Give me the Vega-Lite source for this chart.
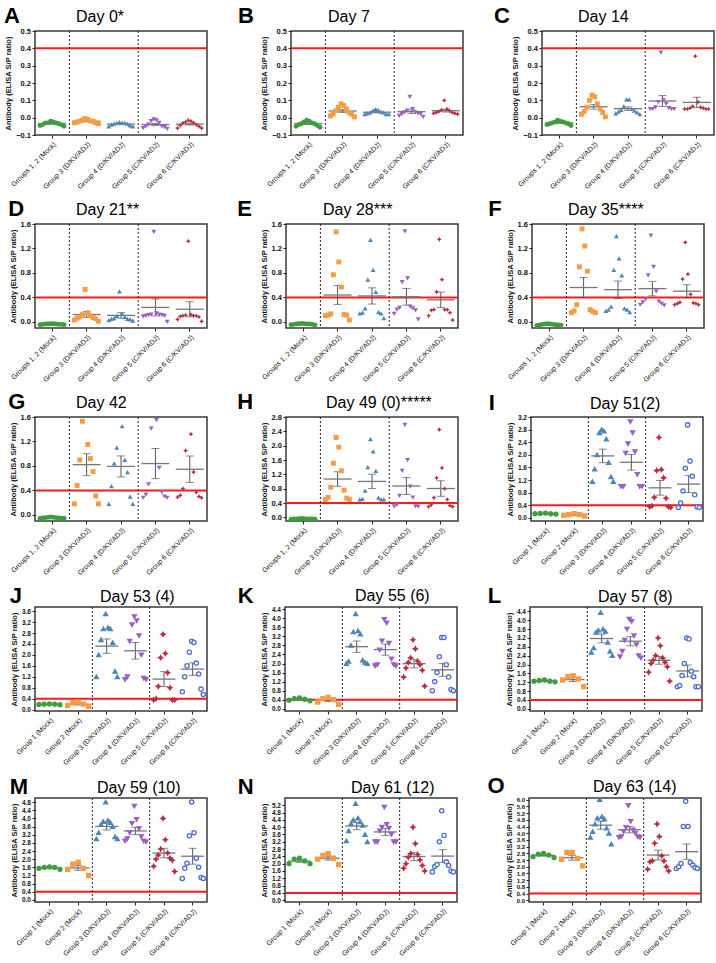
{
"$schema": "https://vega.github.io/schema/vega-lite/v6.json",
"padding": {"left": 3, "top": 5, "right": 2, "bottom": 0},
"datasets": {"d": [
{"p":"A","g":"Groups 1, 2 (Mock)","v":[-0.045,-0.04,-0.03,-0.03,-0.02,-0.025,-0.03,-0.035,-0.04,-0.05]},
{"p":"A","g":"Group 3 (D/KV/ADJ)","v":[-0.03,-0.025,-0.02,-0.015,-0.005,-0.01,-0.02,-0.02,-0.03,-0.035]},
{"p":"A","g":"Group 4 (D/KV/ADJ)","v":[-0.05,-0.04,-0.035,-0.03,-0.025,-0.03,-0.03,-0.035,-0.045,-0.05]},
{"p":"A","g":"Group 5 (C/KV/ADJ)","v":[-0.06,-0.05,-0.04,-0.02,-0.01,-0.015,-0.03,-0.05,-0.055,-0.065]},
{"p":"A","g":"Group 6 (C/KV/ADJ)","v":[-0.06,-0.045,-0.03,-0.025,-0.015,-0.02,-0.03,-0.04,-0.05,-0.06]},
{"p":"B","g":"Groups 1, 2 (Mock)","v":[-0.05,-0.04,-0.035,-0.025,-0.015,-0.02,-0.03,-0.035,-0.045,-0.055]},
{"p":"B","g":"Group 3 (D/KV/ADJ)","v":[0.01,0.02,0.04,0.06,0.08,0.07,0.05,0.03,0.02,0.005]},
{"p":"B","g":"Group 4 (D/KV/ADJ)","v":[0.02,0.025,0.03,0.04,0.05,0.045,0.035,0.03,0.02,0.02]},
{"p":"B","g":"Group 5 (C/KV/ADJ)","v":[0.01,0.02,0.03,0.04,0.12,0.05,0.03,0.025,0.02,0.005]},
{"p":"B","g":"Group 6 (C/KV/ADJ)","v":[0.025,0.03,0.035,0.045,0.1,0.05,0.04,0.03,0.025,0.02]},
{"p":"C","g":"Groups 1, 2 (Mock)","v":[-0.04,-0.035,-0.03,-0.025,-0.015,-0.02,-0.025,-0.03,-0.035,-0.045]},
{"p":"C","g":"Group 3 (D/KV/ADJ)","v":[0.02,0.035,0.06,0.1,0.13,0.12,0.08,0.05,0.03,0.005]},
{"p":"C","g":"Group 4 (D/KV/ADJ)","v":[0.025,0.035,0.045,0.065,0.105,0.105,0.05,0.04,0.03,0.02]},
{"p":"C","g":"Group 5 (C/KV/ADJ)","v":[0.05,0.05,0.06,0.09,0.375,0.1,0.08,0.055,0.05,0.05]},
{"p":"C","g":"Group 6 (C/KV/ADJ)","v":[0.05,0.05,0.055,0.065,0.355,0.09,0.06,0.055,0.05,0.05]},
{"p":"D","g":"Groups 1, 2 (Mock)","v":[-0.045,-0.04,-0.035,-0.035,-0.03,-0.03,-0.035,-0.04,-0.04,-0.045]},
{"p":"D","g":"Group 3 (D/KV/ADJ)","v":[0.03,0.06,0.08,0.12,0.53,0.15,0.1,0.07,0.05,0.01]},
{"p":"D","g":"Group 4 (D/KV/ADJ)","v":[0.03,0.05,0.06,0.1,0.5,0.13,0.08,0.05,0.04,0.02]},
{"p":"D","g":"Group 5 (C/KV/ADJ)","v":[0.09,0.1,0.11,0.12,1.47,0.14,0.12,0.11,0.1,0.0]},
{"p":"D","g":"Group 6 (C/KV/ADJ)","v":[0.04,0.09,0.1,0.11,1.32,0.12,0.1,0.1,0.08,0.01]},
{"p":"E","g":"Groups 1, 2 (Mock)","v":[-0.045,-0.04,-0.035,-0.03,-0.025,-0.03,-0.035,-0.035,-0.04,-0.05]},
{"p":"E","g":"Group 3 (D/KV/ADJ)","v":[0.1,0.11,0.13,0.77,1.47,0.98,0.57,0.12,0.11,0.03]},
{"p":"E","g":"Group 4 (D/KV/ADJ)","v":[0.14,0.15,0.22,0.69,1.34,0.85,0.49,0.16,0.14,0.06]},
{"p":"E","g":"Group 5 (C/KV/ADJ)","v":[0.13,0.2,0.23,0.65,1.48,0.71,0.25,0.22,0.19,0.04]},
{"p":"E","g":"Group 6 (C/KV/ADJ)","v":[0.1,0.19,0.2,0.49,1.35,0.69,0.2,0.2,0.15,0.03]},
{"p":"F","g":"Groups 1, 2 (Mock)","v":[-0.06,-0.05,-0.04,-0.035,-0.03,-0.035,-0.04,-0.045,-0.05,-0.055]},
{"p":"F","g":"Group 3 (D/KV/ADJ)","v":[0.15,0.18,0.28,0.9,1.52,1.24,0.83,0.2,0.17,0.15]},
{"p":"F","g":"Group 4 (D/KV/ADJ)","v":[0.18,0.2,0.25,0.85,1.4,1.04,0.76,0.22,0.2,0.16]},
{"p":"F","g":"Group 5 (C/KV/ADJ)","v":[0.28,0.32,0.37,0.76,1.41,0.9,0.5,0.33,0.3,0.27]},
{"p":"F","g":"Group 6 (C/KV/ADJ)","v":[0.28,0.3,0.32,0.7,1.3,0.78,0.45,0.31,0.3,0.28]},
{"p":"G","g":"Groups 1, 2 (Mock)","v":[-0.06,-0.05,-0.045,-0.04,-0.035,-0.04,-0.045,-0.05,-0.055,-0.06]},
{"p":"G","g":"Group 3 (D/KV/ADJ)","v":[0.18,0.48,0.9,1.53,1.85,1.15,0.92,0.71,0.31,0.18]},
{"p":"G","g":"Group 4 (D/KV/ADJ)","v":[0.18,0.47,0.84,1.1,1.8,1.45,0.9,0.7,0.3,0.18]},
{"p":"G","g":"Group 5 (C/KV/ADJ)","v":[0.28,0.33,0.5,1.41,2.6,1.55,0.77,0.37,0.3,0.28]},
{"p":"G","g":"Group 6 (C/KV/ADJ)","v":[0.29,0.32,0.43,1.05,2.4,1.32,0.7,0.37,0.3,0.28]},
{"p":"H","g":"Groups 1, 2 (Mock)","v":[-0.05,-0.045,-0.04,-0.035,-0.03,-0.035,-0.04,-0.04,-0.045,-0.05]},
{"p":"H","g":"Group 3 (D/KV/ADJ)","v":[0.5,0.56,0.84,1.51,2.23,1.96,1.3,0.76,0.54,0.5]},
{"p":"H","g":"Group 4 (D/KV/ADJ)","v":[0.5,0.52,0.75,1.4,2.18,1.84,1.3,0.55,0.5,0.5]},
{"p":"H","g":"Group 5 (C/KV/ADJ)","v":[0.31,0.35,0.6,1.3,2.58,1.6,0.86,0.55,0.31,0.3]},
{"p":"H","g":"Group 6 (C/KV/ADJ)","v":[0.3,0.35,0.55,1.1,2.45,1.38,0.8,0.5,0.33,0.3]},
{"p":"I","g":"Group 1 (Mock)","v":[0.13,0.14,0.15,0.13,0.12]},
{"p":"I","g":"Group 2 (Mock)","v":[0.08,0.1,0.13,0.1,0.06]},
{"p":"I","g":"Group 3 (D/KV/ADJ)","v":[1.15,1.55,2.0,2.7,2.8,2.75,2.5,1.75,1.3,1.15]},
{"p":"I","g":"Group 4 (D/KV/ADJ)","v":[1.0,1.0,2.05,2.35,3.05,2.7,2.1,1.38,1.0,1.0]},
{"p":"I","g":"Group 5 (C/KV/ADJ)","v":[0.35,0.38,0.65,1.5,2.55,1.53,1.27,0.62,0.35,0.33]},
{"p":"I","g":"Group 6 (C/KV/ADJ)","v":[0.33,0.47,0.85,1.57,2.95,1.8,1.32,0.73,0.35,0.33]},
{"p":"J","g":"Group 1 (Mock)","v":[0.19,0.2,0.21,0.2,0.18]},
{"p":"J","g":"Group 2 (Mock)","v":[0.15,0.25,0.28,0.2,0.12]},
{"p":"J","g":"Group 3 (D/KV/ADJ)","v":[1.2,2.0,2.55,2.95,3.5,3.0,2.95,2.45,1.4,1.2]},
{"p":"J","g":"Group 4 (D/KV/ADJ)","v":[1.1,1.2,2.5,3.1,3.4,3.25,2.7,2.0,1.15,1.1]},
{"p":"J","g":"Group 5 (C/KV/ADJ)","v":[0.35,0.4,0.85,1.9,2.75,2.05,1.35,0.8,0.35,0.35]},
{"p":"J","g":"Group 6 (C/KV/ADJ)","v":[0.65,1.2,1.6,2.1,2.5,2.45,1.7,1.3,0.75,0.55]},
{"p":"K","g":"Group 1 (Mock)","v":[0.38,0.45,0.48,0.42,0.35]},
{"p":"K","g":"Group 2 (Mock)","v":[0.3,0.45,0.5,0.4,0.2]},
{"p":"K","g":"Group 3 (D/KV/ADJ)","v":[2.0,2.1,2.8,3.4,4.2,3.45,3.3,2.15,2.05,2.0]},
{"p":"K","g":"Group 4 (D/KV/ADJ)","v":[1.9,1.95,2.6,3.0,3.95,3.8,2.9,2.2,1.95,1.9]},
{"p":"K","g":"Group 5 (C/KV/ADJ)","v":[1.4,1.8,2.05,2.25,3.05,2.65,2.1,1.95,1.7,1.0]},
{"p":"K","g":"Group 6 (C/KV/ADJ)","v":[0.8,1.2,1.6,2.3,3.15,3.15,1.95,1.4,0.85,0.8]},
{"p":"L","g":"Group 1 (Mock)","v":[1.25,1.28,1.3,1.25,1.22]},
{"p":"L","g":"Group 2 (Mock)","v":[1.3,1.45,1.5,1.35,1.0]},
{"p":"L","g":"Group 3 (D/KV/ADJ)","v":[2.55,2.75,3.45,3.55,4.35,3.6,3.5,3.0,2.6,2.4]},
{"p":"L","g":"Group 4 (D/KV/ADJ)","v":[2.35,2.6,3.1,3.6,4.05,3.95,3.3,2.9,2.4,2.3]},
{"p":"L","g":"Group 5 (C/KV/ADJ)","v":[1.65,2.05,2.2,2.4,3.2,2.85,2.3,2.1,1.9,1.25]},
{"p":"L","g":"Group 6 (C/KV/ADJ)","v":[1.0,1.05,1.5,2.05,3.2,3.15,1.7,1.45,1.0,1.0]},
{"p":"M","g":"Group 1 (Mock)","v":[1.55,1.6,1.62,1.6,1.5]},
{"p":"M","g":"Group 2 (Mock)","v":[1.5,1.75,1.85,1.55,1.2]},
{"p":"M","g":"Group 3 (D/KV/ADJ)","v":[3.0,3.3,3.7,3.85,4.8,3.9,3.8,3.6,3.1,3.0]},
{"p":"M","g":"Group 4 (D/KV/ADJ)","v":[2.9,3.0,3.3,3.75,4.6,3.95,3.5,3.1,2.9,2.85]},
{"p":"M","g":"Group 5 (C/KV/ADJ)","v":[1.65,2.0,2.2,2.5,4.0,2.95,2.3,2.05,1.95,1.4]},
{"p":"M","g":"Group 6 (C/KV/ADJ)","v":[1.05,1.55,1.8,3.15,4.8,3.3,2.05,1.6,1.1,1.05]},
{"p":"N","g":"Group 1 (Mock)","v":[2.0,2.25,2.3,2.15,2.0]},
{"p":"N","g":"Group 2 (Mock)","v":[2.25,2.45,2.55,2.3,1.95]},
{"p":"N","g":"Group 3 (D/KV/ADJ)","v":[3.25,3.8,4.2,4.4,5.3,4.5,4.3,4.1,3.6,3.2]},
{"p":"N","g":"Group 4 (D/KV/ADJ)","v":[3.2,3.2,3.8,4.0,5.1,4.15,3.95,3.6,3.2,3.2]},
{"p":"N","g":"Group 5 (C/KV/ADJ)","v":[1.75,2.0,2.35,2.55,4.0,3.1,2.5,2.2,1.9,1.6]},
{"p":"N","g":"Group 6 (C/KV/ADJ)","v":[1.55,1.85,1.95,3.2,4.9,3.55,2.1,1.9,1.6,1.55]},
{"p":"O","g":"Group 1 (Mock)","v":[2.6,2.75,2.8,2.7,2.55]},
{"p":"O","g":"Group 2 (Mock)","v":[2.45,2.85,2.85,2.5,2.05]},
{"p":"O","g":"Group 3 (D/KV/ADJ)","v":[3.75,4.1,4.55,4.9,6.0,5.0,4.85,4.3,4.0,3.35]},
{"p":"O","g":"Group 4 (D/KV/ADJ)","v":[3.75,3.8,4.1,4.35,5.65,4.7,4.2,4.0,3.8,3.75]},
{"p":"O","g":"Group 5 (C/KV/ADJ)","v":[1.85,2.3,2.35,3.4,4.55,3.8,2.65,2.35,2.0,1.75]},
{"p":"O","g":"Group 6 (C/KV/ADJ)","v":[1.9,2.0,2.2,4.4,5.9,4.4,2.25,2.1,1.95,1.9]}
]},
"vconcat": [
{"hconcat": [
 {"title": {"text": "A", "anchor": "start", "frame": "bounds", "fontSize": 22, "fontWeight": "bold", "offset": -20},
  "hconcat": [{"width": 172, "height": 104, "title": {"text": "Day 0*", "dx": 41}, "data": {"name": "d"},
   "transform": [{"filter": "datum.p === 'A'"}, {"flatten": ["v"]}, {"window": [{"op": "row_number", "as": "i"}], "groupby": ["g"]}, {"window": [{"op": "percent_rank", "as": "j"}], "groupby": ["g"], "sort": [{"field": "i"}]}],
   "layer": [
    {"data": {"values": [{}]}, "mark": {"type": "rule", "color": "#ff1a1a", "strokeWidth": 2}, "encoding": {"y": {"datum": 0.4, "type": "quantitative", "scale": {"domain": [-0.1, 0.5], "nice": false, "zero": false}, "axis": {"values": [-0.1, 0, 0.1, 0.2, 0.3, 0.4, 0.5], "format": ".1f", "title": "Antibody (ELISA S/P ratio)"}}}},
    {"data": {"values": [{}]}, "mark": {"type": "rule", "color": "#222", "strokeWidth": 1, "strokeDash": [2, 2]}, "encoding": {"x": {"datum": "Group 3 (D/KV/ADJ)", "type": "nominal", "bandPosition": 0, "title": null, "scale": {"domain": ["Groups 1, 2 (Mock)", "Group 3 (D/KV/ADJ)", "Group 4 (D/KV/ADJ)", "Group 5 (C/KV/ADJ)", "Group 6 (C/KV/ADJ)"], "paddingInner": 0, "paddingOuter": 0}}}},
    {"data": {"values": [{}]}, "mark": {"type": "rule", "color": "#222", "strokeWidth": 1, "strokeDash": [2, 2]}, "encoding": {"x": {"datum": "Group 5 (C/KV/ADJ)", "type": "nominal", "bandPosition": 0, "title": null, "scale": {"domain": ["Groups 1, 2 (Mock)", "Group 3 (D/KV/ADJ)", "Group 4 (D/KV/ADJ)", "Group 5 (C/KV/ADJ)", "Group 6 (C/KV/ADJ)"], "paddingInner": 0, "paddingOuter": 0}}}},
    {"mark": {"type": "errorbar", "extent": "stderr", "color": "#555", "thickness": 1, "ticks": {"size": 8, "color": "#555"}}, "encoding": {"x": {"field": "g", "type": "nominal", "title": null, "scale": {"domain": ["Groups 1, 2 (Mock)", "Group 3 (D/KV/ADJ)", "Group 4 (D/KV/ADJ)", "Group 5 (C/KV/ADJ)", "Group 6 (C/KV/ADJ)"], "paddingInner": 0, "paddingOuter": 0}}, "y": {"field": "v", "type": "quantitative", "scale": {"domain": [-0.1, 0.5], "nice": false, "zero": false}, "axis": {"values": [-0.1, 0, 0.1, 0.2, 0.3, 0.4, 0.5], "format": ".1f", "title": "Antibody (ELISA S/P ratio)"}}}},
    {"mark": {"type": "tick", "color": "#777", "thickness": 1.3, "size": 28}, "encoding": {"x": {"field": "g", "type": "nominal", "title": null, "scale": {"domain": ["Groups 1, 2 (Mock)", "Group 3 (D/KV/ADJ)", "Group 4 (D/KV/ADJ)", "Group 5 (C/KV/ADJ)", "Group 6 (C/KV/ADJ)"], "paddingInner": 0, "paddingOuter": 0}}, "y": {"aggregate": "mean", "field": "v", "type": "quantitative", "scale": {"domain": [-0.1, 0.5], "nice": false, "zero": false}, "axis": {"values": [-0.1, 0, 0.1, 0.2, 0.3, 0.4, 0.5], "format": ".1f", "title": "Antibody (ELISA S/P ratio)"}}}},
    {"mark": {"type": "point", "filled": true, "size": 24, "opacity": 1, "clip": true}, "encoding": {
      "x": {"field": "g", "type": "nominal", "title": null, "scale": {"domain": ["Groups 1, 2 (Mock)", "Group 3 (D/KV/ADJ)", "Group 4 (D/KV/ADJ)", "Group 5 (C/KV/ADJ)", "Group 6 (C/KV/ADJ)"], "paddingInner": 0, "paddingOuter": 0}},
      "y": {"field": "v", "type": "quantitative", "scale": {"domain": [-0.1, 0.5], "nice": false, "zero": false}, "axis": {"values": [-0.1, 0, 0.1, 0.2, 0.3, 0.4, 0.5], "format": ".1f", "title": "Antibody (ELISA S/P ratio)"}},
      "xOffset": {"field": "j", "type": "quantitative", "scale": {"domain": [0, 1], "range": [5, 29]}},
      "color": {"field": "g", "type": "nominal", "scale": {"domain": ["Groups 1, 2 (Mock)", "Group 3 (D/KV/ADJ)", "Group 4 (D/KV/ADJ)", "Group 5 (C/KV/ADJ)", "Group 6 (C/KV/ADJ)"], "range": ["#3c9e3c", "#f79b45", "#4b86b8", "#9a5fc7", "#b52f3c"]}, "legend": null},
      "shape": {"field": "g", "type": "nominal", "scale": {"domain": ["Groups 1, 2 (Mock)", "Group 3 (D/KV/ADJ)", "Group 4 (D/KV/ADJ)", "Group 5 (C/KV/ADJ)", "Group 6 (C/KV/ADJ)"], "range": ["circle", "square", "triangle-up", "triangle-down", "M0,-1L0.35,-0.35L1,0L0.35,0.35L0,1L-0.35,0.35L-1,0L-0.35,-0.35Z"]}, "legend": null}}}
   ]}]},
 {"title": {"text": "B", "anchor": "start", "frame": "bounds", "fontSize": 22, "fontWeight": "bold", "offset": -20, "dx": -22},
  "hconcat": [{"width": 172, "height": 104, "title": {"text": "Day 7", "dx": 37}, "data": {"name": "d"},
   "transform": [{"filter": "datum.p === 'B'"}, {"flatten": ["v"]}, {"window": [{"op": "row_number", "as": "i"}], "groupby": ["g"]}, {"window": [{"op": "percent_rank", "as": "j"}], "groupby": ["g"], "sort": [{"field": "i"}]}],
   "layer": [
    {"data": {"values": [{}]}, "mark": {"type": "rule", "color": "#ff1a1a", "strokeWidth": 2}, "encoding": {"y": {"datum": 0.4, "type": "quantitative", "scale": {"domain": [-0.1, 0.5], "nice": false, "zero": false}, "axis": {"values": [-0.1, 0, 0.1, 0.2, 0.3, 0.4, 0.5], "format": ".1f", "title": "Antibody (ELISA S/P ratio)"}}}},
    {"data": {"values": [{}]}, "mark": {"type": "rule", "color": "#222", "strokeWidth": 1, "strokeDash": [2, 2]}, "encoding": {"x": {"datum": "Group 3 (D/KV/ADJ)", "type": "nominal", "bandPosition": 0, "title": null, "scale": {"domain": ["Groups 1, 2 (Mock)", "Group 3 (D/KV/ADJ)", "Group 4 (D/KV/ADJ)", "Group 5 (C/KV/ADJ)", "Group 6 (C/KV/ADJ)"], "paddingInner": 0, "paddingOuter": 0}}}},
    {"data": {"values": [{}]}, "mark": {"type": "rule", "color": "#222", "strokeWidth": 1, "strokeDash": [2, 2]}, "encoding": {"x": {"datum": "Group 5 (C/KV/ADJ)", "type": "nominal", "bandPosition": 0, "title": null, "scale": {"domain": ["Groups 1, 2 (Mock)", "Group 3 (D/KV/ADJ)", "Group 4 (D/KV/ADJ)", "Group 5 (C/KV/ADJ)", "Group 6 (C/KV/ADJ)"], "paddingInner": 0, "paddingOuter": 0}}}},
    {"mark": {"type": "errorbar", "extent": "stderr", "color": "#555", "thickness": 1, "ticks": {"size": 8, "color": "#555"}}, "encoding": {"x": {"field": "g", "type": "nominal", "title": null, "scale": {"domain": ["Groups 1, 2 (Mock)", "Group 3 (D/KV/ADJ)", "Group 4 (D/KV/ADJ)", "Group 5 (C/KV/ADJ)", "Group 6 (C/KV/ADJ)"], "paddingInner": 0, "paddingOuter": 0}}, "y": {"field": "v", "type": "quantitative", "scale": {"domain": [-0.1, 0.5], "nice": false, "zero": false}, "axis": {"values": [-0.1, 0, 0.1, 0.2, 0.3, 0.4, 0.5], "format": ".1f", "title": "Antibody (ELISA S/P ratio)"}}}},
    {"mark": {"type": "tick", "color": "#777", "thickness": 1.3, "size": 28}, "encoding": {"x": {"field": "g", "type": "nominal", "title": null, "scale": {"domain": ["Groups 1, 2 (Mock)", "Group 3 (D/KV/ADJ)", "Group 4 (D/KV/ADJ)", "Group 5 (C/KV/ADJ)", "Group 6 (C/KV/ADJ)"], "paddingInner": 0, "paddingOuter": 0}}, "y": {"aggregate": "mean", "field": "v", "type": "quantitative", "scale": {"domain": [-0.1, 0.5], "nice": false, "zero": false}, "axis": {"values": [-0.1, 0, 0.1, 0.2, 0.3, 0.4, 0.5], "format": ".1f", "title": "Antibody (ELISA S/P ratio)"}}}},
    {"mark": {"type": "point", "filled": true, "size": 24, "opacity": 1, "clip": true}, "encoding": {
      "x": {"field": "g", "type": "nominal", "title": null, "scale": {"domain": ["Groups 1, 2 (Mock)", "Group 3 (D/KV/ADJ)", "Group 4 (D/KV/ADJ)", "Group 5 (C/KV/ADJ)", "Group 6 (C/KV/ADJ)"], "paddingInner": 0, "paddingOuter": 0}},
      "y": {"field": "v", "type": "quantitative", "scale": {"domain": [-0.1, 0.5], "nice": false, "zero": false}, "axis": {"values": [-0.1, 0, 0.1, 0.2, 0.3, 0.4, 0.5], "format": ".1f", "title": "Antibody (ELISA S/P ratio)"}},
      "xOffset": {"field": "j", "type": "quantitative", "scale": {"domain": [0, 1], "range": [5, 29]}},
      "color": {"field": "g", "type": "nominal", "scale": {"domain": ["Groups 1, 2 (Mock)", "Group 3 (D/KV/ADJ)", "Group 4 (D/KV/ADJ)", "Group 5 (C/KV/ADJ)", "Group 6 (C/KV/ADJ)"], "range": ["#3c9e3c", "#f79b45", "#4b86b8", "#9a5fc7", "#b52f3c"]}, "legend": null},
      "shape": {"field": "g", "type": "nominal", "scale": {"domain": ["Groups 1, 2 (Mock)", "Group 3 (D/KV/ADJ)", "Group 4 (D/KV/ADJ)", "Group 5 (C/KV/ADJ)", "Group 6 (C/KV/ADJ)"], "range": ["circle", "square", "triangle-up", "triangle-down", "M0,-1L0.35,-0.35L1,0L0.35,0.35L0,1L-0.35,0.35L-1,0L-0.35,-0.35Z"]}, "legend": null}}}
   ]}]},
 {"title": {"text": "C", "anchor": "start", "frame": "bounds", "fontSize": 22, "fontWeight": "bold", "offset": -20, "dx": -17},
  "hconcat": [{"width": 172, "height": 104, "title": {"text": "Day 14", "dx": 36}, "data": {"name": "d"},
   "transform": [{"filter": "datum.p === 'C'"}, {"flatten": ["v"]}, {"window": [{"op": "row_number", "as": "i"}], "groupby": ["g"]}, {"window": [{"op": "percent_rank", "as": "j"}], "groupby": ["g"], "sort": [{"field": "i"}]}],
   "layer": [
    {"data": {"values": [{}]}, "mark": {"type": "rule", "color": "#ff1a1a", "strokeWidth": 2}, "encoding": {"y": {"datum": 0.4, "type": "quantitative", "scale": {"domain": [-0.1, 0.5], "nice": false, "zero": false}, "axis": {"values": [-0.1, 0, 0.1, 0.2, 0.3, 0.4, 0.5], "format": ".1f", "title": "Antibody (ELISA S/P ratio)"}}}},
    {"data": {"values": [{}]}, "mark": {"type": "rule", "color": "#222", "strokeWidth": 1, "strokeDash": [2, 2]}, "encoding": {"x": {"datum": "Group 3 (D/KV/ADJ)", "type": "nominal", "bandPosition": 0, "title": null, "scale": {"domain": ["Groups 1, 2 (Mock)", "Group 3 (D/KV/ADJ)", "Group 4 (D/KV/ADJ)", "Group 5 (C/KV/ADJ)", "Group 6 (C/KV/ADJ)"], "paddingInner": 0, "paddingOuter": 0}}}},
    {"data": {"values": [{}]}, "mark": {"type": "rule", "color": "#222", "strokeWidth": 1, "strokeDash": [2, 2]}, "encoding": {"x": {"datum": "Group 5 (C/KV/ADJ)", "type": "nominal", "bandPosition": 0, "title": null, "scale": {"domain": ["Groups 1, 2 (Mock)", "Group 3 (D/KV/ADJ)", "Group 4 (D/KV/ADJ)", "Group 5 (C/KV/ADJ)", "Group 6 (C/KV/ADJ)"], "paddingInner": 0, "paddingOuter": 0}}}},
    {"mark": {"type": "errorbar", "extent": "stderr", "color": "#555", "thickness": 1, "ticks": {"size": 8, "color": "#555"}}, "encoding": {"x": {"field": "g", "type": "nominal", "title": null, "scale": {"domain": ["Groups 1, 2 (Mock)", "Group 3 (D/KV/ADJ)", "Group 4 (D/KV/ADJ)", "Group 5 (C/KV/ADJ)", "Group 6 (C/KV/ADJ)"], "paddingInner": 0, "paddingOuter": 0}}, "y": {"field": "v", "type": "quantitative", "scale": {"domain": [-0.1, 0.5], "nice": false, "zero": false}, "axis": {"values": [-0.1, 0, 0.1, 0.2, 0.3, 0.4, 0.5], "format": ".1f", "title": "Antibody (ELISA S/P ratio)"}}}},
    {"mark": {"type": "tick", "color": "#777", "thickness": 1.3, "size": 28}, "encoding": {"x": {"field": "g", "type": "nominal", "title": null, "scale": {"domain": ["Groups 1, 2 (Mock)", "Group 3 (D/KV/ADJ)", "Group 4 (D/KV/ADJ)", "Group 5 (C/KV/ADJ)", "Group 6 (C/KV/ADJ)"], "paddingInner": 0, "paddingOuter": 0}}, "y": {"aggregate": "mean", "field": "v", "type": "quantitative", "scale": {"domain": [-0.1, 0.5], "nice": false, "zero": false}, "axis": {"values": [-0.1, 0, 0.1, 0.2, 0.3, 0.4, 0.5], "format": ".1f", "title": "Antibody (ELISA S/P ratio)"}}}},
    {"mark": {"type": "point", "filled": true, "size": 24, "opacity": 1, "clip": true}, "encoding": {
      "x": {"field": "g", "type": "nominal", "title": null, "scale": {"domain": ["Groups 1, 2 (Mock)", "Group 3 (D/KV/ADJ)", "Group 4 (D/KV/ADJ)", "Group 5 (C/KV/ADJ)", "Group 6 (C/KV/ADJ)"], "paddingInner": 0, "paddingOuter": 0}},
      "y": {"field": "v", "type": "quantitative", "scale": {"domain": [-0.1, 0.5], "nice": false, "zero": false}, "axis": {"values": [-0.1, 0, 0.1, 0.2, 0.3, 0.4, 0.5], "format": ".1f", "title": "Antibody (ELISA S/P ratio)"}},
      "xOffset": {"field": "j", "type": "quantitative", "scale": {"domain": [0, 1], "range": [5, 29]}},
      "color": {"field": "g", "type": "nominal", "scale": {"domain": ["Groups 1, 2 (Mock)", "Group 3 (D/KV/ADJ)", "Group 4 (D/KV/ADJ)", "Group 5 (C/KV/ADJ)", "Group 6 (C/KV/ADJ)"], "range": ["#3c9e3c", "#f79b45", "#4b86b8", "#9a5fc7", "#b52f3c"]}, "legend": null},
      "shape": {"field": "g", "type": "nominal", "scale": {"domain": ["Groups 1, 2 (Mock)", "Group 3 (D/KV/ADJ)", "Group 4 (D/KV/ADJ)", "Group 5 (C/KV/ADJ)", "Group 6 (C/KV/ADJ)"], "range": ["circle", "square", "triangle-up", "triangle-down", "M0,-1L0.35,-0.35L1,0L0.35,0.35L0,1L-0.35,0.35L-1,0L-0.35,-0.35Z"]}, "legend": null}}}
   ]}]}
], "spacing": 28, "resolve": {"scale": {"color": "independent", "shape": "independent", "xOffset": "independent", "fill": "independent", "stroke": "independent", "size": "independent"}}},
{"hconcat": [
 {"title": {"text": "D", "anchor": "start", "frame": "bounds", "fontSize": 22, "fontWeight": "bold", "offset": -20},
  "hconcat": [{"width": 172, "height": 104, "title": {"text": "Day 21**", "dx": 41}, "data": {"name": "d"},
   "transform": [{"filter": "datum.p === 'D'"}, {"flatten": ["v"]}, {"window": [{"op": "row_number", "as": "i"}], "groupby": ["g"]}, {"window": [{"op": "percent_rank", "as": "j"}], "groupby": ["g"], "sort": [{"field": "i"}]}],
   "layer": [
    {"data": {"values": [{}]}, "mark": {"type": "rule", "color": "#ff1a1a", "strokeWidth": 2}, "encoding": {"y": {"datum": 0.4, "type": "quantitative", "scale": {"domain": [-0.1, 1.6], "nice": false, "zero": false}, "axis": {"values": [0, 0.4, 0.8, 1.2, 1.6], "format": ".1f", "title": "Antibody (ELISA S/P ratio)"}}}},
    {"data": {"values": [{}]}, "mark": {"type": "rule", "color": "#222", "strokeWidth": 1, "strokeDash": [2, 2]}, "encoding": {"x": {"datum": "Group 3 (D/KV/ADJ)", "type": "nominal", "bandPosition": 0, "title": null, "scale": {"domain": ["Groups 1, 2 (Mock)", "Group 3 (D/KV/ADJ)", "Group 4 (D/KV/ADJ)", "Group 5 (C/KV/ADJ)", "Group 6 (C/KV/ADJ)"], "paddingInner": 0, "paddingOuter": 0}}}},
    {"data": {"values": [{}]}, "mark": {"type": "rule", "color": "#222", "strokeWidth": 1, "strokeDash": [2, 2]}, "encoding": {"x": {"datum": "Group 5 (C/KV/ADJ)", "type": "nominal", "bandPosition": 0, "title": null, "scale": {"domain": ["Groups 1, 2 (Mock)", "Group 3 (D/KV/ADJ)", "Group 4 (D/KV/ADJ)", "Group 5 (C/KV/ADJ)", "Group 6 (C/KV/ADJ)"], "paddingInner": 0, "paddingOuter": 0}}}},
    {"mark": {"type": "errorbar", "extent": "stderr", "color": "#555", "thickness": 1, "ticks": {"size": 8, "color": "#555"}}, "encoding": {"x": {"field": "g", "type": "nominal", "title": null, "scale": {"domain": ["Groups 1, 2 (Mock)", "Group 3 (D/KV/ADJ)", "Group 4 (D/KV/ADJ)", "Group 5 (C/KV/ADJ)", "Group 6 (C/KV/ADJ)"], "paddingInner": 0, "paddingOuter": 0}}, "y": {"field": "v", "type": "quantitative", "scale": {"domain": [-0.1, 1.6], "nice": false, "zero": false}, "axis": {"values": [0, 0.4, 0.8, 1.2, 1.6], "format": ".1f", "title": "Antibody (ELISA S/P ratio)"}}}},
    {"mark": {"type": "tick", "color": "#777", "thickness": 1.3, "size": 28}, "encoding": {"x": {"field": "g", "type": "nominal", "title": null, "scale": {"domain": ["Groups 1, 2 (Mock)", "Group 3 (D/KV/ADJ)", "Group 4 (D/KV/ADJ)", "Group 5 (C/KV/ADJ)", "Group 6 (C/KV/ADJ)"], "paddingInner": 0, "paddingOuter": 0}}, "y": {"aggregate": "mean", "field": "v", "type": "quantitative", "scale": {"domain": [-0.1, 1.6], "nice": false, "zero": false}, "axis": {"values": [0, 0.4, 0.8, 1.2, 1.6], "format": ".1f", "title": "Antibody (ELISA S/P ratio)"}}}},
    {"mark": {"type": "point", "filled": true, "size": 24, "opacity": 1, "clip": true}, "encoding": {
      "x": {"field": "g", "type": "nominal", "title": null, "scale": {"domain": ["Groups 1, 2 (Mock)", "Group 3 (D/KV/ADJ)", "Group 4 (D/KV/ADJ)", "Group 5 (C/KV/ADJ)", "Group 6 (C/KV/ADJ)"], "paddingInner": 0, "paddingOuter": 0}},
      "y": {"field": "v", "type": "quantitative", "scale": {"domain": [-0.1, 1.6], "nice": false, "zero": false}, "axis": {"values": [0, 0.4, 0.8, 1.2, 1.6], "format": ".1f", "title": "Antibody (ELISA S/P ratio)"}},
      "xOffset": {"field": "j", "type": "quantitative", "scale": {"domain": [0, 1], "range": [5, 29]}},
      "color": {"field": "g", "type": "nominal", "scale": {"domain": ["Groups 1, 2 (Mock)", "Group 3 (D/KV/ADJ)", "Group 4 (D/KV/ADJ)", "Group 5 (C/KV/ADJ)", "Group 6 (C/KV/ADJ)"], "range": ["#3c9e3c", "#f79b45", "#4b86b8", "#9a5fc7", "#b52f3c"]}, "legend": null},
      "shape": {"field": "g", "type": "nominal", "scale": {"domain": ["Groups 1, 2 (Mock)", "Group 3 (D/KV/ADJ)", "Group 4 (D/KV/ADJ)", "Group 5 (C/KV/ADJ)", "Group 6 (C/KV/ADJ)"], "range": ["circle", "square", "triangle-up", "triangle-down", "M0,-1L0.35,-0.35L1,0L0.35,0.35L0,1L-0.35,0.35L-1,0L-0.35,-0.35Z"]}, "legend": null}}}
   ]}]},
 {"title": {"text": "E", "anchor": "start", "frame": "bounds", "fontSize": 22, "fontWeight": "bold", "offset": -20, "dx": -22},
  "hconcat": [{"width": 172, "height": 104, "title": {"text": "Day 28***", "dx": 37}, "data": {"name": "d"},
   "transform": [{"filter": "datum.p === 'E'"}, {"flatten": ["v"]}, {"window": [{"op": "row_number", "as": "i"}], "groupby": ["g"]}, {"window": [{"op": "percent_rank", "as": "j"}], "groupby": ["g"], "sort": [{"field": "i"}]}],
   "layer": [
    {"data": {"values": [{}]}, "mark": {"type": "rule", "color": "#ff1a1a", "strokeWidth": 2}, "encoding": {"y": {"datum": 0.4, "type": "quantitative", "scale": {"domain": [-0.1, 1.6], "nice": false, "zero": false}, "axis": {"values": [0, 0.4, 0.8, 1.2, 1.6], "format": ".1f", "title": "Antibody (ELISA S/P ratio)"}}}},
    {"data": {"values": [{}]}, "mark": {"type": "rule", "color": "#222", "strokeWidth": 1, "strokeDash": [2, 2]}, "encoding": {"x": {"datum": "Group 3 (D/KV/ADJ)", "type": "nominal", "bandPosition": 0, "title": null, "scale": {"domain": ["Groups 1, 2 (Mock)", "Group 3 (D/KV/ADJ)", "Group 4 (D/KV/ADJ)", "Group 5 (C/KV/ADJ)", "Group 6 (C/KV/ADJ)"], "paddingInner": 0, "paddingOuter": 0}}}},
    {"data": {"values": [{}]}, "mark": {"type": "rule", "color": "#222", "strokeWidth": 1, "strokeDash": [2, 2]}, "encoding": {"x": {"datum": "Group 5 (C/KV/ADJ)", "type": "nominal", "bandPosition": 0, "title": null, "scale": {"domain": ["Groups 1, 2 (Mock)", "Group 3 (D/KV/ADJ)", "Group 4 (D/KV/ADJ)", "Group 5 (C/KV/ADJ)", "Group 6 (C/KV/ADJ)"], "paddingInner": 0, "paddingOuter": 0}}}},
    {"mark": {"type": "errorbar", "extent": "stderr", "color": "#555", "thickness": 1, "ticks": {"size": 8, "color": "#555"}}, "encoding": {"x": {"field": "g", "type": "nominal", "title": null, "scale": {"domain": ["Groups 1, 2 (Mock)", "Group 3 (D/KV/ADJ)", "Group 4 (D/KV/ADJ)", "Group 5 (C/KV/ADJ)", "Group 6 (C/KV/ADJ)"], "paddingInner": 0, "paddingOuter": 0}}, "y": {"field": "v", "type": "quantitative", "scale": {"domain": [-0.1, 1.6], "nice": false, "zero": false}, "axis": {"values": [0, 0.4, 0.8, 1.2, 1.6], "format": ".1f", "title": "Antibody (ELISA S/P ratio)"}}}},
    {"mark": {"type": "tick", "color": "#777", "thickness": 1.3, "size": 28}, "encoding": {"x": {"field": "g", "type": "nominal", "title": null, "scale": {"domain": ["Groups 1, 2 (Mock)", "Group 3 (D/KV/ADJ)", "Group 4 (D/KV/ADJ)", "Group 5 (C/KV/ADJ)", "Group 6 (C/KV/ADJ)"], "paddingInner": 0, "paddingOuter": 0}}, "y": {"aggregate": "mean", "field": "v", "type": "quantitative", "scale": {"domain": [-0.1, 1.6], "nice": false, "zero": false}, "axis": {"values": [0, 0.4, 0.8, 1.2, 1.6], "format": ".1f", "title": "Antibody (ELISA S/P ratio)"}}}},
    {"mark": {"type": "point", "filled": true, "size": 24, "opacity": 1, "clip": true}, "encoding": {
      "x": {"field": "g", "type": "nominal", "title": null, "scale": {"domain": ["Groups 1, 2 (Mock)", "Group 3 (D/KV/ADJ)", "Group 4 (D/KV/ADJ)", "Group 5 (C/KV/ADJ)", "Group 6 (C/KV/ADJ)"], "paddingInner": 0, "paddingOuter": 0}},
      "y": {"field": "v", "type": "quantitative", "scale": {"domain": [-0.1, 1.6], "nice": false, "zero": false}, "axis": {"values": [0, 0.4, 0.8, 1.2, 1.6], "format": ".1f", "title": "Antibody (ELISA S/P ratio)"}},
      "xOffset": {"field": "j", "type": "quantitative", "scale": {"domain": [0, 1], "range": [5, 29]}},
      "color": {"field": "g", "type": "nominal", "scale": {"domain": ["Groups 1, 2 (Mock)", "Group 3 (D/KV/ADJ)", "Group 4 (D/KV/ADJ)", "Group 5 (C/KV/ADJ)", "Group 6 (C/KV/ADJ)"], "range": ["#3c9e3c", "#f79b45", "#4b86b8", "#9a5fc7", "#b52f3c"]}, "legend": null},
      "shape": {"field": "g", "type": "nominal", "scale": {"domain": ["Groups 1, 2 (Mock)", "Group 3 (D/KV/ADJ)", "Group 4 (D/KV/ADJ)", "Group 5 (C/KV/ADJ)", "Group 6 (C/KV/ADJ)"], "range": ["circle", "square", "triangle-up", "triangle-down", "M0,-1L0.35,-0.35L1,0L0.35,0.35L0,1L-0.35,0.35L-1,0L-0.35,-0.35Z"]}, "legend": null}}}
   ]}]},
 {"title": {"text": "F", "anchor": "start", "frame": "bounds", "fontSize": 22, "fontWeight": "bold", "offset": -20, "dx": -17},
  "hconcat": [{"width": 172, "height": 104, "title": {"text": "Day 35****", "dx": 36}, "data": {"name": "d"},
   "transform": [{"filter": "datum.p === 'F'"}, {"flatten": ["v"]}, {"window": [{"op": "row_number", "as": "i"}], "groupby": ["g"]}, {"window": [{"op": "percent_rank", "as": "j"}], "groupby": ["g"], "sort": [{"field": "i"}]}],
   "layer": [
    {"data": {"values": [{}]}, "mark": {"type": "rule", "color": "#ff1a1a", "strokeWidth": 2}, "encoding": {"y": {"datum": 0.4, "type": "quantitative", "scale": {"domain": [-0.1, 1.6], "nice": false, "zero": false}, "axis": {"values": [0, 0.4, 0.8, 1.2, 1.6], "format": ".1f", "title": "Antibody (ELISA S/P ratio)"}}}},
    {"data": {"values": [{}]}, "mark": {"type": "rule", "color": "#222", "strokeWidth": 1, "strokeDash": [2, 2]}, "encoding": {"x": {"datum": "Group 3 (D/KV/ADJ)", "type": "nominal", "bandPosition": 0, "title": null, "scale": {"domain": ["Groups 1, 2 (Mock)", "Group 3 (D/KV/ADJ)", "Group 4 (D/KV/ADJ)", "Group 5 (C/KV/ADJ)", "Group 6 (C/KV/ADJ)"], "paddingInner": 0, "paddingOuter": 0}}}},
    {"data": {"values": [{}]}, "mark": {"type": "rule", "color": "#222", "strokeWidth": 1, "strokeDash": [2, 2]}, "encoding": {"x": {"datum": "Group 5 (C/KV/ADJ)", "type": "nominal", "bandPosition": 0, "title": null, "scale": {"domain": ["Groups 1, 2 (Mock)", "Group 3 (D/KV/ADJ)", "Group 4 (D/KV/ADJ)", "Group 5 (C/KV/ADJ)", "Group 6 (C/KV/ADJ)"], "paddingInner": 0, "paddingOuter": 0}}}},
    {"mark": {"type": "errorbar", "extent": "stderr", "color": "#555", "thickness": 1, "ticks": {"size": 8, "color": "#555"}}, "encoding": {"x": {"field": "g", "type": "nominal", "title": null, "scale": {"domain": ["Groups 1, 2 (Mock)", "Group 3 (D/KV/ADJ)", "Group 4 (D/KV/ADJ)", "Group 5 (C/KV/ADJ)", "Group 6 (C/KV/ADJ)"], "paddingInner": 0, "paddingOuter": 0}}, "y": {"field": "v", "type": "quantitative", "scale": {"domain": [-0.1, 1.6], "nice": false, "zero": false}, "axis": {"values": [0, 0.4, 0.8, 1.2, 1.6], "format": ".1f", "title": "Antibody (ELISA S/P ratio)"}}}},
    {"mark": {"type": "tick", "color": "#777", "thickness": 1.3, "size": 28}, "encoding": {"x": {"field": "g", "type": "nominal", "title": null, "scale": {"domain": ["Groups 1, 2 (Mock)", "Group 3 (D/KV/ADJ)", "Group 4 (D/KV/ADJ)", "Group 5 (C/KV/ADJ)", "Group 6 (C/KV/ADJ)"], "paddingInner": 0, "paddingOuter": 0}}, "y": {"aggregate": "mean", "field": "v", "type": "quantitative", "scale": {"domain": [-0.1, 1.6], "nice": false, "zero": false}, "axis": {"values": [0, 0.4, 0.8, 1.2, 1.6], "format": ".1f", "title": "Antibody (ELISA S/P ratio)"}}}},
    {"mark": {"type": "point", "filled": true, "size": 24, "opacity": 1, "clip": true}, "encoding": {
      "x": {"field": "g", "type": "nominal", "title": null, "scale": {"domain": ["Groups 1, 2 (Mock)", "Group 3 (D/KV/ADJ)", "Group 4 (D/KV/ADJ)", "Group 5 (C/KV/ADJ)", "Group 6 (C/KV/ADJ)"], "paddingInner": 0, "paddingOuter": 0}},
      "y": {"field": "v", "type": "quantitative", "scale": {"domain": [-0.1, 1.6], "nice": false, "zero": false}, "axis": {"values": [0, 0.4, 0.8, 1.2, 1.6], "format": ".1f", "title": "Antibody (ELISA S/P ratio)"}},
      "xOffset": {"field": "j", "type": "quantitative", "scale": {"domain": [0, 1], "range": [5, 29]}},
      "color": {"field": "g", "type": "nominal", "scale": {"domain": ["Groups 1, 2 (Mock)", "Group 3 (D/KV/ADJ)", "Group 4 (D/KV/ADJ)", "Group 5 (C/KV/ADJ)", "Group 6 (C/KV/ADJ)"], "range": ["#3c9e3c", "#f79b45", "#4b86b8", "#9a5fc7", "#b52f3c"]}, "legend": null},
      "shape": {"field": "g", "type": "nominal", "scale": {"domain": ["Groups 1, 2 (Mock)", "Group 3 (D/KV/ADJ)", "Group 4 (D/KV/ADJ)", "Group 5 (C/KV/ADJ)", "Group 6 (C/KV/ADJ)"], "range": ["circle", "square", "triangle-up", "triangle-down", "M0,-1L0.35,-0.35L1,0L0.35,0.35L0,1L-0.35,0.35L-1,0L-0.35,-0.35Z"]}, "legend": null}}}
   ]}]}
], "spacing": 28, "resolve": {"scale": {"color": "independent", "shape": "independent", "xOffset": "independent", "fill": "independent", "stroke": "independent", "size": "independent"}}},
{"hconcat": [
 {"title": {"text": "G", "anchor": "start", "frame": "bounds", "fontSize": 22, "fontWeight": "bold", "offset": -20},
  "hconcat": [{"width": 172, "height": 104, "title": {"text": "Day 42", "dx": 41}, "data": {"name": "d"},
   "transform": [{"filter": "datum.p === 'G'"}, {"flatten": ["v"]}, {"window": [{"op": "row_number", "as": "i"}], "groupby": ["g"]}, {"window": [{"op": "percent_rank", "as": "j"}], "groupby": ["g"], "sort": [{"field": "i"}]}],
   "layer": [
    {"data": {"values": [{}]}, "mark": {"type": "rule", "color": "#ff1a1a", "strokeWidth": 2}, "encoding": {"y": {"datum": 0.4, "type": "quantitative", "scale": {"domain": [-0.1, 1.6], "nice": false, "zero": false}, "axis": {"values": [0, 0.4, 0.8, 1.2, 1.6], "format": ".1f", "title": "Antibody (ELISA S/P ratio)"}}}},
    {"data": {"values": [{}]}, "mark": {"type": "rule", "color": "#222", "strokeWidth": 1, "strokeDash": [2, 2]}, "encoding": {"x": {"datum": "Group 3 (D/KV/ADJ)", "type": "nominal", "bandPosition": 0, "title": null, "scale": {"domain": ["Groups 1, 2 (Mock)", "Group 3 (D/KV/ADJ)", "Group 4 (D/KV/ADJ)", "Group 5 (C/KV/ADJ)", "Group 6 (C/KV/ADJ)"], "paddingInner": 0, "paddingOuter": 0}}}},
    {"data": {"values": [{}]}, "mark": {"type": "rule", "color": "#222", "strokeWidth": 1, "strokeDash": [2, 2]}, "encoding": {"x": {"datum": "Group 5 (C/KV/ADJ)", "type": "nominal", "bandPosition": 0, "title": null, "scale": {"domain": ["Groups 1, 2 (Mock)", "Group 3 (D/KV/ADJ)", "Group 4 (D/KV/ADJ)", "Group 5 (C/KV/ADJ)", "Group 6 (C/KV/ADJ)"], "paddingInner": 0, "paddingOuter": 0}}}},
    {"mark": {"type": "errorbar", "extent": "stderr", "color": "#555", "thickness": 1, "ticks": {"size": 8, "color": "#555"}}, "encoding": {"x": {"field": "g", "type": "nominal", "title": null, "scale": {"domain": ["Groups 1, 2 (Mock)", "Group 3 (D/KV/ADJ)", "Group 4 (D/KV/ADJ)", "Group 5 (C/KV/ADJ)", "Group 6 (C/KV/ADJ)"], "paddingInner": 0, "paddingOuter": 0}}, "y": {"field": "v", "type": "quantitative", "scale": {"domain": [-0.1, 1.6], "nice": false, "zero": false}, "axis": {"values": [0, 0.4, 0.8, 1.2, 1.6], "format": ".1f", "title": "Antibody (ELISA S/P ratio)"}}}},
    {"mark": {"type": "tick", "color": "#777", "thickness": 1.3, "size": 28}, "encoding": {"x": {"field": "g", "type": "nominal", "title": null, "scale": {"domain": ["Groups 1, 2 (Mock)", "Group 3 (D/KV/ADJ)", "Group 4 (D/KV/ADJ)", "Group 5 (C/KV/ADJ)", "Group 6 (C/KV/ADJ)"], "paddingInner": 0, "paddingOuter": 0}}, "y": {"aggregate": "mean", "field": "v", "type": "quantitative", "scale": {"domain": [-0.1, 1.6], "nice": false, "zero": false}, "axis": {"values": [0, 0.4, 0.8, 1.2, 1.6], "format": ".1f", "title": "Antibody (ELISA S/P ratio)"}}}},
    {"mark": {"type": "point", "filled": true, "size": 24, "opacity": 1, "clip": true}, "encoding": {
      "x": {"field": "g", "type": "nominal", "title": null, "scale": {"domain": ["Groups 1, 2 (Mock)", "Group 3 (D/KV/ADJ)", "Group 4 (D/KV/ADJ)", "Group 5 (C/KV/ADJ)", "Group 6 (C/KV/ADJ)"], "paddingInner": 0, "paddingOuter": 0}},
      "y": {"field": "v", "type": "quantitative", "scale": {"domain": [-0.1, 1.6], "nice": false, "zero": false}, "axis": {"values": [0, 0.4, 0.8, 1.2, 1.6], "format": ".1f", "title": "Antibody (ELISA S/P ratio)"}},
      "xOffset": {"field": "j", "type": "quantitative", "scale": {"domain": [0, 1], "range": [5, 29]}},
      "color": {"field": "g", "type": "nominal", "scale": {"domain": ["Groups 1, 2 (Mock)", "Group 3 (D/KV/ADJ)", "Group 4 (D/KV/ADJ)", "Group 5 (C/KV/ADJ)", "Group 6 (C/KV/ADJ)"], "range": ["#3c9e3c", "#f79b45", "#4b86b8", "#9a5fc7", "#b52f3c"]}, "legend": null},
      "shape": {"field": "g", "type": "nominal", "scale": {"domain": ["Groups 1, 2 (Mock)", "Group 3 (D/KV/ADJ)", "Group 4 (D/KV/ADJ)", "Group 5 (C/KV/ADJ)", "Group 6 (C/KV/ADJ)"], "range": ["circle", "square", "triangle-up", "triangle-down", "M0,-1L0.35,-0.35L1,0L0.35,0.35L0,1L-0.35,0.35L-1,0L-0.35,-0.35Z"]}, "legend": null}}}
   ]}]},
 {"title": {"text": "H", "anchor": "start", "frame": "bounds", "fontSize": 22, "fontWeight": "bold", "offset": -20, "dx": -22},
  "hconcat": [{"width": 172, "height": 104, "title": {"text": "Day 49 (0)*****", "dx": 40}, "data": {"name": "d"},
   "transform": [{"filter": "datum.p === 'H'"}, {"flatten": ["v"]}, {"window": [{"op": "row_number", "as": "i"}], "groupby": ["g"]}, {"window": [{"op": "percent_rank", "as": "j"}], "groupby": ["g"], "sort": [{"field": "i"}]}],
   "layer": [
    {"data": {"values": [{}]}, "mark": {"type": "rule", "color": "#ff1a1a", "strokeWidth": 2}, "encoding": {"y": {"datum": 0.4, "type": "quantitative", "scale": {"domain": [-0.1, 2.8], "nice": false, "zero": false}, "axis": {"values": [0, 0.4, 0.8, 1.2, 1.6, 2, 2.4, 2.8], "format": ".1f", "title": "Antibody (ELISA S/P ratio)"}}}},
    {"data": {"values": [{}]}, "mark": {"type": "rule", "color": "#222", "strokeWidth": 1, "strokeDash": [2, 2]}, "encoding": {"x": {"datum": "Group 3 (D/KV/ADJ)", "type": "nominal", "bandPosition": 0, "title": null, "scale": {"domain": ["Groups 1, 2 (Mock)", "Group 3 (D/KV/ADJ)", "Group 4 (D/KV/ADJ)", "Group 5 (C/KV/ADJ)", "Group 6 (C/KV/ADJ)"], "paddingInner": 0, "paddingOuter": 0}}}},
    {"data": {"values": [{}]}, "mark": {"type": "rule", "color": "#222", "strokeWidth": 1, "strokeDash": [2, 2]}, "encoding": {"x": {"datum": "Group 5 (C/KV/ADJ)", "type": "nominal", "bandPosition": 0, "title": null, "scale": {"domain": ["Groups 1, 2 (Mock)", "Group 3 (D/KV/ADJ)", "Group 4 (D/KV/ADJ)", "Group 5 (C/KV/ADJ)", "Group 6 (C/KV/ADJ)"], "paddingInner": 0, "paddingOuter": 0}}}},
    {"mark": {"type": "errorbar", "extent": "stderr", "color": "#555", "thickness": 1, "ticks": {"size": 8, "color": "#555"}}, "encoding": {"x": {"field": "g", "type": "nominal", "title": null, "scale": {"domain": ["Groups 1, 2 (Mock)", "Group 3 (D/KV/ADJ)", "Group 4 (D/KV/ADJ)", "Group 5 (C/KV/ADJ)", "Group 6 (C/KV/ADJ)"], "paddingInner": 0, "paddingOuter": 0}}, "y": {"field": "v", "type": "quantitative", "scale": {"domain": [-0.1, 2.8], "nice": false, "zero": false}, "axis": {"values": [0, 0.4, 0.8, 1.2, 1.6, 2, 2.4, 2.8], "format": ".1f", "title": "Antibody (ELISA S/P ratio)"}}}},
    {"mark": {"type": "tick", "color": "#777", "thickness": 1.3, "size": 28}, "encoding": {"x": {"field": "g", "type": "nominal", "title": null, "scale": {"domain": ["Groups 1, 2 (Mock)", "Group 3 (D/KV/ADJ)", "Group 4 (D/KV/ADJ)", "Group 5 (C/KV/ADJ)", "Group 6 (C/KV/ADJ)"], "paddingInner": 0, "paddingOuter": 0}}, "y": {"aggregate": "mean", "field": "v", "type": "quantitative", "scale": {"domain": [-0.1, 2.8], "nice": false, "zero": false}, "axis": {"values": [0, 0.4, 0.8, 1.2, 1.6, 2, 2.4, 2.8], "format": ".1f", "title": "Antibody (ELISA S/P ratio)"}}}},
    {"mark": {"type": "point", "filled": true, "size": 24, "opacity": 1, "clip": true}, "encoding": {
      "x": {"field": "g", "type": "nominal", "title": null, "scale": {"domain": ["Groups 1, 2 (Mock)", "Group 3 (D/KV/ADJ)", "Group 4 (D/KV/ADJ)", "Group 5 (C/KV/ADJ)", "Group 6 (C/KV/ADJ)"], "paddingInner": 0, "paddingOuter": 0}},
      "y": {"field": "v", "type": "quantitative", "scale": {"domain": [-0.1, 2.8], "nice": false, "zero": false}, "axis": {"values": [0, 0.4, 0.8, 1.2, 1.6, 2, 2.4, 2.8], "format": ".1f", "title": "Antibody (ELISA S/P ratio)"}},
      "xOffset": {"field": "j", "type": "quantitative", "scale": {"domain": [0, 1], "range": [5, 29]}},
      "color": {"field": "g", "type": "nominal", "scale": {"domain": ["Groups 1, 2 (Mock)", "Group 3 (D/KV/ADJ)", "Group 4 (D/KV/ADJ)", "Group 5 (C/KV/ADJ)", "Group 6 (C/KV/ADJ)"], "range": ["#3c9e3c", "#f79b45", "#4b86b8", "#9a5fc7", "#b52f3c"]}, "legend": null},
      "shape": {"field": "g", "type": "nominal", "scale": {"domain": ["Groups 1, 2 (Mock)", "Group 3 (D/KV/ADJ)", "Group 4 (D/KV/ADJ)", "Group 5 (C/KV/ADJ)", "Group 6 (C/KV/ADJ)"], "range": ["circle", "square", "triangle-up", "triangle-down", "M0,-1L0.35,-0.35L1,0L0.35,0.35L0,1L-0.35,0.35L-1,0L-0.35,-0.35Z"]}, "legend": null}}}
   ]}]},
 {"title": {"text": "I", "anchor": "start", "frame": "bounds", "fontSize": 22, "fontWeight": "bold", "offset": -20, "dx": -17},
  "hconcat": [{"width": 172, "height": 104, "title": {"text": "Day 51(2)", "dx": 59}, "data": {"name": "d"},
   "transform": [{"filter": "datum.p === 'I'"}, {"flatten": ["v"]}, {"window": [{"op": "row_number", "as": "i"}], "groupby": ["g"]}, {"window": [{"op": "percent_rank", "as": "j"}], "groupby": ["g"], "sort": [{"field": "i"}]}],
   "layer": [
    {"data": {"values": [{}]}, "mark": {"type": "rule", "color": "#ff1a1a", "strokeWidth": 2}, "encoding": {"y": {"datum": 0.4, "type": "quantitative", "scale": {"domain": [-0.1, 3.2], "nice": false, "zero": false}, "axis": {"values": [0, 0.4, 0.8, 1.2, 1.6, 2, 2.4, 2.8, 3.2], "format": ".1f", "labelFontSize": 6.5, "title": "Antibody (ELISA S/P ratio)"}}}},
    {"data": {"values": [{}]}, "mark": {"type": "rule", "color": "#222", "strokeWidth": 1, "strokeDash": [2, 2]}, "encoding": {"x": {"datum": "Group 3 (D/KV/ADJ)", "type": "nominal", "bandPosition": 0, "title": null, "scale": {"domain": ["Group 1 (Mock)", "Group 2 (Mock)", "Group 3 (D/KV/ADJ)", "Group 4 (D/KV/ADJ)", "Group 5 (C/KV/ADJ)", "Group 6 (C/KV/ADJ)"], "paddingInner": 0, "paddingOuter": 0}}}},
    {"data": {"values": [{}]}, "mark": {"type": "rule", "color": "#222", "strokeWidth": 1, "strokeDash": [2, 2]}, "encoding": {"x": {"datum": "Group 5 (C/KV/ADJ)", "type": "nominal", "bandPosition": 0, "title": null, "scale": {"domain": ["Group 1 (Mock)", "Group 2 (Mock)", "Group 3 (D/KV/ADJ)", "Group 4 (D/KV/ADJ)", "Group 5 (C/KV/ADJ)", "Group 6 (C/KV/ADJ)"], "paddingInner": 0, "paddingOuter": 0}}}},
    {"mark": {"type": "errorbar", "extent": "stderr", "color": "#555", "thickness": 1, "ticks": {"size": 8, "color": "#555"}}, "encoding": {"x": {"field": "g", "type": "nominal", "title": null, "scale": {"domain": ["Group 1 (Mock)", "Group 2 (Mock)", "Group 3 (D/KV/ADJ)", "Group 4 (D/KV/ADJ)", "Group 5 (C/KV/ADJ)", "Group 6 (C/KV/ADJ)"], "paddingInner": 0, "paddingOuter": 0}}, "y": {"field": "v", "type": "quantitative", "scale": {"domain": [-0.1, 3.2], "nice": false, "zero": false}, "axis": {"values": [0, 0.4, 0.8, 1.2, 1.6, 2, 2.4, 2.8, 3.2], "format": ".1f", "labelFontSize": 6.5, "title": "Antibody (ELISA S/P ratio)"}}}},
    {"mark": {"type": "tick", "color": "#777", "thickness": 1.3, "size": 23}, "encoding": {"x": {"field": "g", "type": "nominal", "title": null, "scale": {"domain": ["Group 1 (Mock)", "Group 2 (Mock)", "Group 3 (D/KV/ADJ)", "Group 4 (D/KV/ADJ)", "Group 5 (C/KV/ADJ)", "Group 6 (C/KV/ADJ)"], "paddingInner": 0, "paddingOuter": 0}}, "y": {"aggregate": "mean", "field": "v", "type": "quantitative", "scale": {"domain": [-0.1, 3.2], "nice": false, "zero": false}, "axis": {"values": [0, 0.4, 0.8, 1.2, 1.6, 2, 2.4, 2.8, 3.2], "format": ".1f", "labelFontSize": 6.5, "title": "Antibody (ELISA S/P ratio)"}}}},
    {"mark": {"type": "point", "strokeWidth": 1.3, "opacity": 1, "clip": true}, "encoding": {
      "x": {"field": "g", "type": "nominal", "title": null, "scale": {"domain": ["Group 1 (Mock)", "Group 2 (Mock)", "Group 3 (D/KV/ADJ)", "Group 4 (D/KV/ADJ)", "Group 5 (C/KV/ADJ)", "Group 6 (C/KV/ADJ)"], "paddingInner": 0, "paddingOuter": 0}},
      "y": {"field": "v", "type": "quantitative", "scale": {"domain": [-0.1, 3.2], "nice": false, "zero": false}, "axis": {"values": [0, 0.4, 0.8, 1.2, 1.6, 2, 2.4, 2.8, 3.2], "format": ".1f", "labelFontSize": 6.5, "title": "Antibody (ELISA S/P ratio)"}},
      "xOffset": {"field": "j", "type": "quantitative", "scale": {"domain": [0, 1], "range": [4, 25]}},
      "fill": {"field": "g", "type": "nominal", "scale": {"domain": ["Group 1 (Mock)", "Group 2 (Mock)", "Group 3 (D/KV/ADJ)", "Group 4 (D/KV/ADJ)", "Group 5 (C/KV/ADJ)", "Group 6 (C/KV/ADJ)"], "range": ["#3c9e3c", "#f79b45", "#4b86b8", "#9a5fc7", "#b52f3c", "#ffffff"]}, "legend": null},
      "stroke": {"field": "g", "type": "nominal", "scale": {"domain": ["Group 1 (Mock)", "Group 2 (Mock)", "Group 3 (D/KV/ADJ)", "Group 4 (D/KV/ADJ)", "Group 5 (C/KV/ADJ)", "Group 6 (C/KV/ADJ)"], "range": ["#3c9e3c", "#f79b45", "#4b86b8", "#9a5fc7", "#b52f3c", "#4a6cd0"]}, "legend": null},
      "size": {"field": "g", "type": "ordinal", "scale": {"domain": ["Group 1 (Mock)", "Group 2 (Mock)", "Group 3 (D/KV/ADJ)", "Group 4 (D/KV/ADJ)", "Group 5 (C/KV/ADJ)", "Group 6 (C/KV/ADJ)"], "range": [16, 18, 16, 16, 18, 30]}, "legend": null},
      "shape": {"field": "g", "type": "nominal", "scale": {"domain": ["Group 1 (Mock)", "Group 2 (Mock)", "Group 3 (D/KV/ADJ)", "Group 4 (D/KV/ADJ)", "Group 5 (C/KV/ADJ)", "Group 6 (C/KV/ADJ)"], "range": ["circle", "square", "triangle-up", "triangle-down", "M0,-1L0.35,-0.35L1,0L0.35,0.35L0,1L-0.35,0.35L-1,0L-0.35,-0.35Z", "circle"]}, "legend": null}}}
   ]}]}
], "spacing": 28, "resolve": {"scale": {"color": "independent", "shape": "independent", "xOffset": "independent", "fill": "independent", "stroke": "independent", "size": "independent"}}},
{"hconcat": [
 {"title": {"text": "J", "anchor": "start", "frame": "bounds", "fontSize": 22, "fontWeight": "bold", "offset": -20},
  "hconcat": [{"width": 172, "height": 104, "title": {"text": "Day 53 (4)", "dx": 65}, "data": {"name": "d"},
   "transform": [{"filter": "datum.p === 'J'"}, {"flatten": ["v"]}, {"window": [{"op": "row_number", "as": "i"}], "groupby": ["g"]}, {"window": [{"op": "percent_rank", "as": "j"}], "groupby": ["g"], "sort": [{"field": "i"}]}],
   "layer": [
    {"data": {"values": [{}]}, "mark": {"type": "rule", "color": "#ff1a1a", "strokeWidth": 2}, "encoding": {"y": {"datum": 0.4, "type": "quantitative", "scale": {"domain": [-0.05, 3.75], "nice": false, "zero": false}, "axis": {"values": [0, 0.4, 0.8, 1.2, 1.6, 2, 2.4, 2.8, 3.2, 3.6], "format": ".1f", "labelFontSize": 6.5, "title": "Antibody (ELISA S/P ratio)"}}}},
    {"data": {"values": [{}]}, "mark": {"type": "rule", "color": "#222", "strokeWidth": 1, "strokeDash": [2, 2]}, "encoding": {"x": {"datum": "Group 3 (D/KV/ADJ)", "type": "nominal", "bandPosition": 0, "title": null, "scale": {"domain": ["Group 1 (Mock)", "Group 2 (Mock)", "Group 3 (D/KV/ADJ)", "Group 4 (D/KV/ADJ)", "Group 5 (C/KV/ADJ)", "Group 6 (C/KV/ADJ)"], "paddingInner": 0, "paddingOuter": 0}}}},
    {"data": {"values": [{}]}, "mark": {"type": "rule", "color": "#222", "strokeWidth": 1, "strokeDash": [2, 2]}, "encoding": {"x": {"datum": "Group 5 (C/KV/ADJ)", "type": "nominal", "bandPosition": 0, "title": null, "scale": {"domain": ["Group 1 (Mock)", "Group 2 (Mock)", "Group 3 (D/KV/ADJ)", "Group 4 (D/KV/ADJ)", "Group 5 (C/KV/ADJ)", "Group 6 (C/KV/ADJ)"], "paddingInner": 0, "paddingOuter": 0}}}},
    {"mark": {"type": "errorbar", "extent": "stderr", "color": "#555", "thickness": 1, "ticks": {"size": 8, "color": "#555"}}, "encoding": {"x": {"field": "g", "type": "nominal", "title": null, "scale": {"domain": ["Group 1 (Mock)", "Group 2 (Mock)", "Group 3 (D/KV/ADJ)", "Group 4 (D/KV/ADJ)", "Group 5 (C/KV/ADJ)", "Group 6 (C/KV/ADJ)"], "paddingInner": 0, "paddingOuter": 0}}, "y": {"field": "v", "type": "quantitative", "scale": {"domain": [-0.05, 3.75], "nice": false, "zero": false}, "axis": {"values": [0, 0.4, 0.8, 1.2, 1.6, 2, 2.4, 2.8, 3.2, 3.6], "format": ".1f", "labelFontSize": 6.5, "title": "Antibody (ELISA S/P ratio)"}}}},
    {"mark": {"type": "tick", "color": "#777", "thickness": 1.3, "size": 23}, "encoding": {"x": {"field": "g", "type": "nominal", "title": null, "scale": {"domain": ["Group 1 (Mock)", "Group 2 (Mock)", "Group 3 (D/KV/ADJ)", "Group 4 (D/KV/ADJ)", "Group 5 (C/KV/ADJ)", "Group 6 (C/KV/ADJ)"], "paddingInner": 0, "paddingOuter": 0}}, "y": {"aggregate": "mean", "field": "v", "type": "quantitative", "scale": {"domain": [-0.05, 3.75], "nice": false, "zero": false}, "axis": {"values": [0, 0.4, 0.8, 1.2, 1.6, 2, 2.4, 2.8, 3.2, 3.6], "format": ".1f", "labelFontSize": 6.5, "title": "Antibody (ELISA S/P ratio)"}}}},
    {"mark": {"type": "point", "strokeWidth": 1.3, "opacity": 1, "clip": true}, "encoding": {
      "x": {"field": "g", "type": "nominal", "title": null, "scale": {"domain": ["Group 1 (Mock)", "Group 2 (Mock)", "Group 3 (D/KV/ADJ)", "Group 4 (D/KV/ADJ)", "Group 5 (C/KV/ADJ)", "Group 6 (C/KV/ADJ)"], "paddingInner": 0, "paddingOuter": 0}},
      "y": {"field": "v", "type": "quantitative", "scale": {"domain": [-0.05, 3.75], "nice": false, "zero": false}, "axis": {"values": [0, 0.4, 0.8, 1.2, 1.6, 2, 2.4, 2.8, 3.2, 3.6], "format": ".1f", "labelFontSize": 6.5, "title": "Antibody (ELISA S/P ratio)"}},
      "xOffset": {"field": "j", "type": "quantitative", "scale": {"domain": [0, 1], "range": [4, 25]}},
      "fill": {"field": "g", "type": "nominal", "scale": {"domain": ["Group 1 (Mock)", "Group 2 (Mock)", "Group 3 (D/KV/ADJ)", "Group 4 (D/KV/ADJ)", "Group 5 (C/KV/ADJ)", "Group 6 (C/KV/ADJ)"], "range": ["#3c9e3c", "#f79b45", "#4b86b8", "#9a5fc7", "#b52f3c", "#ffffff"]}, "legend": null},
      "stroke": {"field": "g", "type": "nominal", "scale": {"domain": ["Group 1 (Mock)", "Group 2 (Mock)", "Group 3 (D/KV/ADJ)", "Group 4 (D/KV/ADJ)", "Group 5 (C/KV/ADJ)", "Group 6 (C/KV/ADJ)"], "range": ["#3c9e3c", "#f79b45", "#4b86b8", "#9a5fc7", "#b52f3c", "#4a6cd0"]}, "legend": null},
      "size": {"field": "g", "type": "ordinal", "scale": {"domain": ["Group 1 (Mock)", "Group 2 (Mock)", "Group 3 (D/KV/ADJ)", "Group 4 (D/KV/ADJ)", "Group 5 (C/KV/ADJ)", "Group 6 (C/KV/ADJ)"], "range": [16, 18, 16, 16, 18, 30]}, "legend": null},
      "shape": {"field": "g", "type": "nominal", "scale": {"domain": ["Group 1 (Mock)", "Group 2 (Mock)", "Group 3 (D/KV/ADJ)", "Group 4 (D/KV/ADJ)", "Group 5 (C/KV/ADJ)", "Group 6 (C/KV/ADJ)"], "range": ["circle", "square", "triangle-up", "triangle-down", "M0,-1L0.35,-0.35L1,0L0.35,0.35L0,1L-0.35,0.35L-1,0L-0.35,-0.35Z", "circle"]}, "legend": null}}}
   ]}]},
 {"title": {"text": "K", "anchor": "start", "frame": "bounds", "fontSize": 22, "fontWeight": "bold", "offset": -20, "dx": -22},
  "hconcat": [{"width": 172, "height": 104, "title": {"text": "Day 55 (6)", "dx": 70}, "data": {"name": "d"},
   "transform": [{"filter": "datum.p === 'K'"}, {"flatten": ["v"]}, {"window": [{"op": "row_number", "as": "i"}], "groupby": ["g"]}, {"window": [{"op": "percent_rank", "as": "j"}], "groupby": ["g"], "sort": [{"field": "i"}]}],
   "layer": [
    {"data": {"values": [{}]}, "mark": {"type": "rule", "color": "#ff1a1a", "strokeWidth": 2}, "encoding": {"y": {"datum": 0.4, "type": "quantitative", "scale": {"domain": [-0.1, 4.5], "nice": false, "zero": false}, "axis": {"values": [0, 0.4, 0.8, 1.2, 1.6, 2, 2.4, 2.8, 3.2, 3.6, 4, 4.4], "format": ".1f", "labelFontSize": 6.5, "title": "Antibody (ELISA S/P ratio)"}}}},
    {"data": {"values": [{}]}, "mark": {"type": "rule", "color": "#222", "strokeWidth": 1, "strokeDash": [2, 2]}, "encoding": {"x": {"datum": "Group 3 (D/KV/ADJ)", "type": "nominal", "bandPosition": 0, "title": null, "scale": {"domain": ["Group 1 (Mock)", "Group 2 (Mock)", "Group 3 (D/KV/ADJ)", "Group 4 (D/KV/ADJ)", "Group 5 (C/KV/ADJ)", "Group 6 (C/KV/ADJ)"], "paddingInner": 0, "paddingOuter": 0}}}},
    {"data": {"values": [{}]}, "mark": {"type": "rule", "color": "#222", "strokeWidth": 1, "strokeDash": [2, 2]}, "encoding": {"x": {"datum": "Group 5 (C/KV/ADJ)", "type": "nominal", "bandPosition": 0, "title": null, "scale": {"domain": ["Group 1 (Mock)", "Group 2 (Mock)", "Group 3 (D/KV/ADJ)", "Group 4 (D/KV/ADJ)", "Group 5 (C/KV/ADJ)", "Group 6 (C/KV/ADJ)"], "paddingInner": 0, "paddingOuter": 0}}}},
    {"mark": {"type": "errorbar", "extent": "stderr", "color": "#555", "thickness": 1, "ticks": {"size": 8, "color": "#555"}}, "encoding": {"x": {"field": "g", "type": "nominal", "title": null, "scale": {"domain": ["Group 1 (Mock)", "Group 2 (Mock)", "Group 3 (D/KV/ADJ)", "Group 4 (D/KV/ADJ)", "Group 5 (C/KV/ADJ)", "Group 6 (C/KV/ADJ)"], "paddingInner": 0, "paddingOuter": 0}}, "y": {"field": "v", "type": "quantitative", "scale": {"domain": [-0.1, 4.5], "nice": false, "zero": false}, "axis": {"values": [0, 0.4, 0.8, 1.2, 1.6, 2, 2.4, 2.8, 3.2, 3.6, 4, 4.4], "format": ".1f", "labelFontSize": 6.5, "title": "Antibody (ELISA S/P ratio)"}}}},
    {"mark": {"type": "tick", "color": "#777", "thickness": 1.3, "size": 23}, "encoding": {"x": {"field": "g", "type": "nominal", "title": null, "scale": {"domain": ["Group 1 (Mock)", "Group 2 (Mock)", "Group 3 (D/KV/ADJ)", "Group 4 (D/KV/ADJ)", "Group 5 (C/KV/ADJ)", "Group 6 (C/KV/ADJ)"], "paddingInner": 0, "paddingOuter": 0}}, "y": {"aggregate": "mean", "field": "v", "type": "quantitative", "scale": {"domain": [-0.1, 4.5], "nice": false, "zero": false}, "axis": {"values": [0, 0.4, 0.8, 1.2, 1.6, 2, 2.4, 2.8, 3.2, 3.6, 4, 4.4], "format": ".1f", "labelFontSize": 6.5, "title": "Antibody (ELISA S/P ratio)"}}}},
    {"mark": {"type": "point", "strokeWidth": 1.3, "opacity": 1, "clip": true}, "encoding": {
      "x": {"field": "g", "type": "nominal", "title": null, "scale": {"domain": ["Group 1 (Mock)", "Group 2 (Mock)", "Group 3 (D/KV/ADJ)", "Group 4 (D/KV/ADJ)", "Group 5 (C/KV/ADJ)", "Group 6 (C/KV/ADJ)"], "paddingInner": 0, "paddingOuter": 0}},
      "y": {"field": "v", "type": "quantitative", "scale": {"domain": [-0.1, 4.5], "nice": false, "zero": false}, "axis": {"values": [0, 0.4, 0.8, 1.2, 1.6, 2, 2.4, 2.8, 3.2, 3.6, 4, 4.4], "format": ".1f", "labelFontSize": 6.5, "title": "Antibody (ELISA S/P ratio)"}},
      "xOffset": {"field": "j", "type": "quantitative", "scale": {"domain": [0, 1], "range": [4, 25]}},
      "fill": {"field": "g", "type": "nominal", "scale": {"domain": ["Group 1 (Mock)", "Group 2 (Mock)", "Group 3 (D/KV/ADJ)", "Group 4 (D/KV/ADJ)", "Group 5 (C/KV/ADJ)", "Group 6 (C/KV/ADJ)"], "range": ["#3c9e3c", "#f79b45", "#4b86b8", "#9a5fc7", "#b52f3c", "#ffffff"]}, "legend": null},
      "stroke": {"field": "g", "type": "nominal", "scale": {"domain": ["Group 1 (Mock)", "Group 2 (Mock)", "Group 3 (D/KV/ADJ)", "Group 4 (D/KV/ADJ)", "Group 5 (C/KV/ADJ)", "Group 6 (C/KV/ADJ)"], "range": ["#3c9e3c", "#f79b45", "#4b86b8", "#9a5fc7", "#b52f3c", "#4a6cd0"]}, "legend": null},
      "size": {"field": "g", "type": "ordinal", "scale": {"domain": ["Group 1 (Mock)", "Group 2 (Mock)", "Group 3 (D/KV/ADJ)", "Group 4 (D/KV/ADJ)", "Group 5 (C/KV/ADJ)", "Group 6 (C/KV/ADJ)"], "range": [16, 18, 16, 16, 18, 30]}, "legend": null},
      "shape": {"field": "g", "type": "nominal", "scale": {"domain": ["Group 1 (Mock)", "Group 2 (Mock)", "Group 3 (D/KV/ADJ)", "Group 4 (D/KV/ADJ)", "Group 5 (C/KV/ADJ)", "Group 6 (C/KV/ADJ)"], "range": ["circle", "square", "triangle-up", "triangle-down", "M0,-1L0.35,-0.35L1,0L0.35,0.35L0,1L-0.35,0.35L-1,0L-0.35,-0.35Z", "circle"]}, "legend": null}}}
   ]}]},
 {"title": {"text": "L", "anchor": "start", "frame": "bounds", "fontSize": 22, "fontWeight": "bold", "offset": -20, "dx": -17},
  "hconcat": [{"width": 172, "height": 104, "title": {"text": "Day 57 (8)", "dx": 68}, "data": {"name": "d"},
   "transform": [{"filter": "datum.p === 'L'"}, {"flatten": ["v"]}, {"window": [{"op": "row_number", "as": "i"}], "groupby": ["g"]}, {"window": [{"op": "percent_rank", "as": "j"}], "groupby": ["g"], "sort": [{"field": "i"}]}],
   "layer": [
    {"data": {"values": [{}]}, "mark": {"type": "rule", "color": "#ff1a1a", "strokeWidth": 2}, "encoding": {"y": {"datum": 0.4, "type": "quantitative", "scale": {"domain": [-0.1, 4.6], "nice": false, "zero": false}, "axis": {"values": [0, 0.4, 0.8, 1.2, 1.6, 2, 2.4, 2.8, 3.2, 3.6, 4, 4.4], "format": ".1f", "labelFontSize": 6.5, "title": "Antibody (ELISA S/P ratio)"}}}},
    {"data": {"values": [{}]}, "mark": {"type": "rule", "color": "#222", "strokeWidth": 1, "strokeDash": [2, 2]}, "encoding": {"x": {"datum": "Group 3 (D/KV/ADJ)", "type": "nominal", "bandPosition": 0, "title": null, "scale": {"domain": ["Group 1 (Mock)", "Group 2 (Mock)", "Group 3 (D/KV/ADJ)", "Group 4 (D/KV/ADJ)", "Group 5 (C/KV/ADJ)", "Group 6 (C/KV/ADJ)"], "paddingInner": 0, "paddingOuter": 0}}}},
    {"data": {"values": [{}]}, "mark": {"type": "rule", "color": "#222", "strokeWidth": 1, "strokeDash": [2, 2]}, "encoding": {"x": {"datum": "Group 5 (C/KV/ADJ)", "type": "nominal", "bandPosition": 0, "title": null, "scale": {"domain": ["Group 1 (Mock)", "Group 2 (Mock)", "Group 3 (D/KV/ADJ)", "Group 4 (D/KV/ADJ)", "Group 5 (C/KV/ADJ)", "Group 6 (C/KV/ADJ)"], "paddingInner": 0, "paddingOuter": 0}}}},
    {"mark": {"type": "errorbar", "extent": "stderr", "color": "#555", "thickness": 1, "ticks": {"size": 8, "color": "#555"}}, "encoding": {"x": {"field": "g", "type": "nominal", "title": null, "scale": {"domain": ["Group 1 (Mock)", "Group 2 (Mock)", "Group 3 (D/KV/ADJ)", "Group 4 (D/KV/ADJ)", "Group 5 (C/KV/ADJ)", "Group 6 (C/KV/ADJ)"], "paddingInner": 0, "paddingOuter": 0}}, "y": {"field": "v", "type": "quantitative", "scale": {"domain": [-0.1, 4.6], "nice": false, "zero": false}, "axis": {"values": [0, 0.4, 0.8, 1.2, 1.6, 2, 2.4, 2.8, 3.2, 3.6, 4, 4.4], "format": ".1f", "labelFontSize": 6.5, "title": "Antibody (ELISA S/P ratio)"}}}},
    {"mark": {"type": "tick", "color": "#777", "thickness": 1.3, "size": 23}, "encoding": {"x": {"field": "g", "type": "nominal", "title": null, "scale": {"domain": ["Group 1 (Mock)", "Group 2 (Mock)", "Group 3 (D/KV/ADJ)", "Group 4 (D/KV/ADJ)", "Group 5 (C/KV/ADJ)", "Group 6 (C/KV/ADJ)"], "paddingInner": 0, "paddingOuter": 0}}, "y": {"aggregate": "mean", "field": "v", "type": "quantitative", "scale": {"domain": [-0.1, 4.6], "nice": false, "zero": false}, "axis": {"values": [0, 0.4, 0.8, 1.2, 1.6, 2, 2.4, 2.8, 3.2, 3.6, 4, 4.4], "format": ".1f", "labelFontSize": 6.5, "title": "Antibody (ELISA S/P ratio)"}}}},
    {"mark": {"type": "point", "strokeWidth": 1.3, "opacity": 1, "clip": true}, "encoding": {
      "x": {"field": "g", "type": "nominal", "title": null, "scale": {"domain": ["Group 1 (Mock)", "Group 2 (Mock)", "Group 3 (D/KV/ADJ)", "Group 4 (D/KV/ADJ)", "Group 5 (C/KV/ADJ)", "Group 6 (C/KV/ADJ)"], "paddingInner": 0, "paddingOuter": 0}},
      "y": {"field": "v", "type": "quantitative", "scale": {"domain": [-0.1, 4.6], "nice": false, "zero": false}, "axis": {"values": [0, 0.4, 0.8, 1.2, 1.6, 2, 2.4, 2.8, 3.2, 3.6, 4, 4.4], "format": ".1f", "labelFontSize": 6.5, "title": "Antibody (ELISA S/P ratio)"}},
      "xOffset": {"field": "j", "type": "quantitative", "scale": {"domain": [0, 1], "range": [4, 25]}},
      "fill": {"field": "g", "type": "nominal", "scale": {"domain": ["Group 1 (Mock)", "Group 2 (Mock)", "Group 3 (D/KV/ADJ)", "Group 4 (D/KV/ADJ)", "Group 5 (C/KV/ADJ)", "Group 6 (C/KV/ADJ)"], "range": ["#3c9e3c", "#f79b45", "#4b86b8", "#9a5fc7", "#b52f3c", "#ffffff"]}, "legend": null},
      "stroke": {"field": "g", "type": "nominal", "scale": {"domain": ["Group 1 (Mock)", "Group 2 (Mock)", "Group 3 (D/KV/ADJ)", "Group 4 (D/KV/ADJ)", "Group 5 (C/KV/ADJ)", "Group 6 (C/KV/ADJ)"], "range": ["#3c9e3c", "#f79b45", "#4b86b8", "#9a5fc7", "#b52f3c", "#4a6cd0"]}, "legend": null},
      "size": {"field": "g", "type": "ordinal", "scale": {"domain": ["Group 1 (Mock)", "Group 2 (Mock)", "Group 3 (D/KV/ADJ)", "Group 4 (D/KV/ADJ)", "Group 5 (C/KV/ADJ)", "Group 6 (C/KV/ADJ)"], "range": [16, 18, 16, 16, 18, 30]}, "legend": null},
      "shape": {"field": "g", "type": "nominal", "scale": {"domain": ["Group 1 (Mock)", "Group 2 (Mock)", "Group 3 (D/KV/ADJ)", "Group 4 (D/KV/ADJ)", "Group 5 (C/KV/ADJ)", "Group 6 (C/KV/ADJ)"], "range": ["circle", "square", "triangle-up", "triangle-down", "M0,-1L0.35,-0.35L1,0L0.35,0.35L0,1L-0.35,0.35L-1,0L-0.35,-0.35Z", "circle"]}, "legend": null}}}
   ]}]}
], "spacing": 28, "resolve": {"scale": {"color": "independent", "shape": "independent", "xOffset": "independent", "fill": "independent", "stroke": "independent", "size": "independent"}}},
{"hconcat": [
 {"title": {"text": "M", "anchor": "start", "frame": "bounds", "fontSize": 22, "fontWeight": "bold", "offset": -20},
  "hconcat": [{"width": 172, "height": 104, "title": {"text": "Day 59 (10)", "dx": 62}, "data": {"name": "d"},
   "transform": [{"filter": "datum.p === 'M'"}, {"flatten": ["v"]}, {"window": [{"op": "row_number", "as": "i"}], "groupby": ["g"]}, {"window": [{"op": "percent_rank", "as": "j"}], "groupby": ["g"], "sort": [{"field": "i"}]}],
   "layer": [
    {"data": {"values": [{}]}, "mark": {"type": "rule", "color": "#ff1a1a", "strokeWidth": 2}, "encoding": {"y": {"datum": 0.4, "type": "quantitative", "scale": {"domain": [-0.1, 5.0], "nice": false, "zero": false}, "axis": {"values": [0, 0.4, 0.8, 1.2, 1.6, 2, 2.4, 2.8, 3.2, 3.6, 4, 4.4, 4.8], "format": ".1f", "labelFontSize": 6.5, "title": "Antibody (ELISA S/P ratio)"}}}},
    {"data": {"values": [{}]}, "mark": {"type": "rule", "color": "#222", "strokeWidth": 1, "strokeDash": [2, 2]}, "encoding": {"x": {"datum": "Group 3 (D/KV/ADJ)", "type": "nominal", "bandPosition": 0, "title": null, "scale": {"domain": ["Group 1 (Mock)", "Group 2 (Mock)", "Group 3 (D/KV/ADJ)", "Group 4 (D/KV/ADJ)", "Group 5 (C/KV/ADJ)", "Group 6 (C/KV/ADJ)"], "paddingInner": 0, "paddingOuter": 0}}}},
    {"data": {"values": [{}]}, "mark": {"type": "rule", "color": "#222", "strokeWidth": 1, "strokeDash": [2, 2]}, "encoding": {"x": {"datum": "Group 5 (C/KV/ADJ)", "type": "nominal", "bandPosition": 0, "title": null, "scale": {"domain": ["Group 1 (Mock)", "Group 2 (Mock)", "Group 3 (D/KV/ADJ)", "Group 4 (D/KV/ADJ)", "Group 5 (C/KV/ADJ)", "Group 6 (C/KV/ADJ)"], "paddingInner": 0, "paddingOuter": 0}}}},
    {"mark": {"type": "errorbar", "extent": "stderr", "color": "#555", "thickness": 1, "ticks": {"size": 8, "color": "#555"}}, "encoding": {"x": {"field": "g", "type": "nominal", "title": null, "scale": {"domain": ["Group 1 (Mock)", "Group 2 (Mock)", "Group 3 (D/KV/ADJ)", "Group 4 (D/KV/ADJ)", "Group 5 (C/KV/ADJ)", "Group 6 (C/KV/ADJ)"], "paddingInner": 0, "paddingOuter": 0}}, "y": {"field": "v", "type": "quantitative", "scale": {"domain": [-0.1, 5.0], "nice": false, "zero": false}, "axis": {"values": [0, 0.4, 0.8, 1.2, 1.6, 2, 2.4, 2.8, 3.2, 3.6, 4, 4.4, 4.8], "format": ".1f", "labelFontSize": 6.5, "title": "Antibody (ELISA S/P ratio)"}}}},
    {"mark": {"type": "tick", "color": "#777", "thickness": 1.3, "size": 23}, "encoding": {"x": {"field": "g", "type": "nominal", "title": null, "scale": {"domain": ["Group 1 (Mock)", "Group 2 (Mock)", "Group 3 (D/KV/ADJ)", "Group 4 (D/KV/ADJ)", "Group 5 (C/KV/ADJ)", "Group 6 (C/KV/ADJ)"], "paddingInner": 0, "paddingOuter": 0}}, "y": {"aggregate": "mean", "field": "v", "type": "quantitative", "scale": {"domain": [-0.1, 5.0], "nice": false, "zero": false}, "axis": {"values": [0, 0.4, 0.8, 1.2, 1.6, 2, 2.4, 2.8, 3.2, 3.6, 4, 4.4, 4.8], "format": ".1f", "labelFontSize": 6.5, "title": "Antibody (ELISA S/P ratio)"}}}},
    {"mark": {"type": "point", "strokeWidth": 1.3, "opacity": 1, "clip": true}, "encoding": {
      "x": {"field": "g", "type": "nominal", "title": null, "scale": {"domain": ["Group 1 (Mock)", "Group 2 (Mock)", "Group 3 (D/KV/ADJ)", "Group 4 (D/KV/ADJ)", "Group 5 (C/KV/ADJ)", "Group 6 (C/KV/ADJ)"], "paddingInner": 0, "paddingOuter": 0}},
      "y": {"field": "v", "type": "quantitative", "scale": {"domain": [-0.1, 5.0], "nice": false, "zero": false}, "axis": {"values": [0, 0.4, 0.8, 1.2, 1.6, 2, 2.4, 2.8, 3.2, 3.6, 4, 4.4, 4.8], "format": ".1f", "labelFontSize": 6.5, "title": "Antibody (ELISA S/P ratio)"}},
      "xOffset": {"field": "j", "type": "quantitative", "scale": {"domain": [0, 1], "range": [4, 25]}},
      "fill": {"field": "g", "type": "nominal", "scale": {"domain": ["Group 1 (Mock)", "Group 2 (Mock)", "Group 3 (D/KV/ADJ)", "Group 4 (D/KV/ADJ)", "Group 5 (C/KV/ADJ)", "Group 6 (C/KV/ADJ)"], "range": ["#3c9e3c", "#f79b45", "#4b86b8", "#9a5fc7", "#b52f3c", "#ffffff"]}, "legend": null},
      "stroke": {"field": "g", "type": "nominal", "scale": {"domain": ["Group 1 (Mock)", "Group 2 (Mock)", "Group 3 (D/KV/ADJ)", "Group 4 (D/KV/ADJ)", "Group 5 (C/KV/ADJ)", "Group 6 (C/KV/ADJ)"], "range": ["#3c9e3c", "#f79b45", "#4b86b8", "#9a5fc7", "#b52f3c", "#4a6cd0"]}, "legend": null},
      "size": {"field": "g", "type": "ordinal", "scale": {"domain": ["Group 1 (Mock)", "Group 2 (Mock)", "Group 3 (D/KV/ADJ)", "Group 4 (D/KV/ADJ)", "Group 5 (C/KV/ADJ)", "Group 6 (C/KV/ADJ)"], "range": [16, 18, 16, 16, 18, 30]}, "legend": null},
      "shape": {"field": "g", "type": "nominal", "scale": {"domain": ["Group 1 (Mock)", "Group 2 (Mock)", "Group 3 (D/KV/ADJ)", "Group 4 (D/KV/ADJ)", "Group 5 (C/KV/ADJ)", "Group 6 (C/KV/ADJ)"], "range": ["circle", "square", "triangle-up", "triangle-down", "M0,-1L0.35,-0.35L1,0L0.35,0.35L0,1L-0.35,0.35L-1,0L-0.35,-0.35Z", "circle"]}, "legend": null}}}
   ]}]},
 {"title": {"text": "N", "anchor": "start", "frame": "bounds", "fontSize": 22, "fontWeight": "bold", "offset": -20, "dx": -22},
  "hconcat": [{"width": 172, "height": 104, "title": {"text": "Day 61 (12)", "dx": 66}, "data": {"name": "d"},
   "transform": [{"filter": "datum.p === 'N'"}, {"flatten": ["v"]}, {"window": [{"op": "row_number", "as": "i"}], "groupby": ["g"]}, {"window": [{"op": "percent_rank", "as": "j"}], "groupby": ["g"], "sort": [{"field": "i"}]}],
   "layer": [
    {"data": {"values": [{}]}, "mark": {"type": "rule", "color": "#ff1a1a", "strokeWidth": 2}, "encoding": {"y": {"datum": 0.4, "type": "quantitative", "scale": {"domain": [-0.1, 5.6], "nice": false, "zero": false}, "axis": {"values": [0, 0.4, 0.8, 1.2, 1.6, 2, 2.4, 2.8, 3.2, 3.6, 4, 4.4, 4.8, 5.2], "format": ".1f", "labelFontSize": 6.5, "title": "Antibody (ELISA S/P ratio)"}}}},
    {"data": {"values": [{}]}, "mark": {"type": "rule", "color": "#222", "strokeWidth": 1, "strokeDash": [2, 2]}, "encoding": {"x": {"datum": "Group 3 (D/KV/ADJ)", "type": "nominal", "bandPosition": 0, "title": null, "scale": {"domain": ["Group 1 (Mock)", "Group 2 (Mock)", "Group 3 (D/KV/ADJ)", "Group 4 (D/KV/ADJ)", "Group 5 (C/KV/ADJ)", "Group 6 (C/KV/ADJ)"], "paddingInner": 0, "paddingOuter": 0}}}},
    {"data": {"values": [{}]}, "mark": {"type": "rule", "color": "#222", "strokeWidth": 1, "strokeDash": [2, 2]}, "encoding": {"x": {"datum": "Group 5 (C/KV/ADJ)", "type": "nominal", "bandPosition": 0, "title": null, "scale": {"domain": ["Group 1 (Mock)", "Group 2 (Mock)", "Group 3 (D/KV/ADJ)", "Group 4 (D/KV/ADJ)", "Group 5 (C/KV/ADJ)", "Group 6 (C/KV/ADJ)"], "paddingInner": 0, "paddingOuter": 0}}}},
    {"mark": {"type": "errorbar", "extent": "stderr", "color": "#555", "thickness": 1, "ticks": {"size": 8, "color": "#555"}}, "encoding": {"x": {"field": "g", "type": "nominal", "title": null, "scale": {"domain": ["Group 1 (Mock)", "Group 2 (Mock)", "Group 3 (D/KV/ADJ)", "Group 4 (D/KV/ADJ)", "Group 5 (C/KV/ADJ)", "Group 6 (C/KV/ADJ)"], "paddingInner": 0, "paddingOuter": 0}}, "y": {"field": "v", "type": "quantitative", "scale": {"domain": [-0.1, 5.6], "nice": false, "zero": false}, "axis": {"values": [0, 0.4, 0.8, 1.2, 1.6, 2, 2.4, 2.8, 3.2, 3.6, 4, 4.4, 4.8, 5.2], "format": ".1f", "labelFontSize": 6.5, "title": "Antibody (ELISA S/P ratio)"}}}},
    {"mark": {"type": "tick", "color": "#777", "thickness": 1.3, "size": 23}, "encoding": {"x": {"field": "g", "type": "nominal", "title": null, "scale": {"domain": ["Group 1 (Mock)", "Group 2 (Mock)", "Group 3 (D/KV/ADJ)", "Group 4 (D/KV/ADJ)", "Group 5 (C/KV/ADJ)", "Group 6 (C/KV/ADJ)"], "paddingInner": 0, "paddingOuter": 0}}, "y": {"aggregate": "mean", "field": "v", "type": "quantitative", "scale": {"domain": [-0.1, 5.6], "nice": false, "zero": false}, "axis": {"values": [0, 0.4, 0.8, 1.2, 1.6, 2, 2.4, 2.8, 3.2, 3.6, 4, 4.4, 4.8, 5.2], "format": ".1f", "labelFontSize": 6.5, "title": "Antibody (ELISA S/P ratio)"}}}},
    {"mark": {"type": "point", "strokeWidth": 1.3, "opacity": 1, "clip": true}, "encoding": {
      "x": {"field": "g", "type": "nominal", "title": null, "scale": {"domain": ["Group 1 (Mock)", "Group 2 (Mock)", "Group 3 (D/KV/ADJ)", "Group 4 (D/KV/ADJ)", "Group 5 (C/KV/ADJ)", "Group 6 (C/KV/ADJ)"], "paddingInner": 0, "paddingOuter": 0}},
      "y": {"field": "v", "type": "quantitative", "scale": {"domain": [-0.1, 5.6], "nice": false, "zero": false}, "axis": {"values": [0, 0.4, 0.8, 1.2, 1.6, 2, 2.4, 2.8, 3.2, 3.6, 4, 4.4, 4.8, 5.2], "format": ".1f", "labelFontSize": 6.5, "title": "Antibody (ELISA S/P ratio)"}},
      "xOffset": {"field": "j", "type": "quantitative", "scale": {"domain": [0, 1], "range": [4, 25]}},
      "fill": {"field": "g", "type": "nominal", "scale": {"domain": ["Group 1 (Mock)", "Group 2 (Mock)", "Group 3 (D/KV/ADJ)", "Group 4 (D/KV/ADJ)", "Group 5 (C/KV/ADJ)", "Group 6 (C/KV/ADJ)"], "range": ["#3c9e3c", "#f79b45", "#4b86b8", "#9a5fc7", "#b52f3c", "#ffffff"]}, "legend": null},
      "stroke": {"field": "g", "type": "nominal", "scale": {"domain": ["Group 1 (Mock)", "Group 2 (Mock)", "Group 3 (D/KV/ADJ)", "Group 4 (D/KV/ADJ)", "Group 5 (C/KV/ADJ)", "Group 6 (C/KV/ADJ)"], "range": ["#3c9e3c", "#f79b45", "#4b86b8", "#9a5fc7", "#b52f3c", "#4a6cd0"]}, "legend": null},
      "size": {"field": "g", "type": "ordinal", "scale": {"domain": ["Group 1 (Mock)", "Group 2 (Mock)", "Group 3 (D/KV/ADJ)", "Group 4 (D/KV/ADJ)", "Group 5 (C/KV/ADJ)", "Group 6 (C/KV/ADJ)"], "range": [16, 18, 16, 16, 18, 30]}, "legend": null},
      "shape": {"field": "g", "type": "nominal", "scale": {"domain": ["Group 1 (Mock)", "Group 2 (Mock)", "Group 3 (D/KV/ADJ)", "Group 4 (D/KV/ADJ)", "Group 5 (C/KV/ADJ)", "Group 6 (C/KV/ADJ)"], "range": ["circle", "square", "triangle-up", "triangle-down", "M0,-1L0.35,-0.35L1,0L0.35,0.35L0,1L-0.35,0.35L-1,0L-0.35,-0.35Z", "circle"]}, "legend": null}}}
   ]}]},
 {"title": {"text": "O", "anchor": "start", "frame": "bounds", "fontSize": 22, "fontWeight": "bold", "offset": -20, "dx": -17},
  "hconcat": [{"width": 172, "height": 104, "title": {"text": "Day 63 (14)", "dx": 64}, "data": {"name": "d"},
   "transform": [{"filter": "datum.p === 'O'"}, {"flatten": ["v"]}, {"window": [{"op": "row_number", "as": "i"}], "groupby": ["g"]}, {"window": [{"op": "percent_rank", "as": "j"}], "groupby": ["g"], "sort": [{"field": "i"}]}],
   "layer": [
    {"data": {"values": [{}]}, "mark": {"type": "rule", "color": "#ff1a1a", "strokeWidth": 2}, "encoding": {"y": {"datum": 0.4, "type": "quantitative", "scale": {"domain": [-0.1, 6.1], "nice": false, "zero": false}, "axis": {"values": [0, 0.4, 0.8, 1.2, 1.6, 2, 2.4, 2.8, 3.2, 3.6, 4, 4.4, 4.8, 5.2, 5.6, 6], "format": ".1f", "labelFontSize": 6, "title": "Antibody (ELISA S/P ratio)"}}}},
    {"data": {"values": [{}]}, "mark": {"type": "rule", "color": "#222", "strokeWidth": 1, "strokeDash": [2, 2]}, "encoding": {"x": {"datum": "Group 3 (D/KV/ADJ)", "type": "nominal", "bandPosition": 0, "title": null, "scale": {"domain": ["Group 1 (Mock)", "Group 2 (Mock)", "Group 3 (D/KV/ADJ)", "Group 4 (D/KV/ADJ)", "Group 5 (C/KV/ADJ)", "Group 6 (C/KV/ADJ)"], "paddingInner": 0, "paddingOuter": 0}}}},
    {"data": {"values": [{}]}, "mark": {"type": "rule", "color": "#222", "strokeWidth": 1, "strokeDash": [2, 2]}, "encoding": {"x": {"datum": "Group 5 (C/KV/ADJ)", "type": "nominal", "bandPosition": 0, "title": null, "scale": {"domain": ["Group 1 (Mock)", "Group 2 (Mock)", "Group 3 (D/KV/ADJ)", "Group 4 (D/KV/ADJ)", "Group 5 (C/KV/ADJ)", "Group 6 (C/KV/ADJ)"], "paddingInner": 0, "paddingOuter": 0}}}},
    {"mark": {"type": "errorbar", "extent": "stderr", "color": "#555", "thickness": 1, "ticks": {"size": 8, "color": "#555"}}, "encoding": {"x": {"field": "g", "type": "nominal", "title": null, "scale": {"domain": ["Group 1 (Mock)", "Group 2 (Mock)", "Group 3 (D/KV/ADJ)", "Group 4 (D/KV/ADJ)", "Group 5 (C/KV/ADJ)", "Group 6 (C/KV/ADJ)"], "paddingInner": 0, "paddingOuter": 0}}, "y": {"field": "v", "type": "quantitative", "scale": {"domain": [-0.1, 6.1], "nice": false, "zero": false}, "axis": {"values": [0, 0.4, 0.8, 1.2, 1.6, 2, 2.4, 2.8, 3.2, 3.6, 4, 4.4, 4.8, 5.2, 5.6, 6], "format": ".1f", "labelFontSize": 6, "title": "Antibody (ELISA S/P ratio)"}}}},
    {"mark": {"type": "tick", "color": "#777", "thickness": 1.3, "size": 23}, "encoding": {"x": {"field": "g", "type": "nominal", "title": null, "scale": {"domain": ["Group 1 (Mock)", "Group 2 (Mock)", "Group 3 (D/KV/ADJ)", "Group 4 (D/KV/ADJ)", "Group 5 (C/KV/ADJ)", "Group 6 (C/KV/ADJ)"], "paddingInner": 0, "paddingOuter": 0}}, "y": {"aggregate": "mean", "field": "v", "type": "quantitative", "scale": {"domain": [-0.1, 6.1], "nice": false, "zero": false}, "axis": {"values": [0, 0.4, 0.8, 1.2, 1.6, 2, 2.4, 2.8, 3.2, 3.6, 4, 4.4, 4.8, 5.2, 5.6, 6], "format": ".1f", "labelFontSize": 6, "title": "Antibody (ELISA S/P ratio)"}}}},
    {"mark": {"type": "point", "strokeWidth": 1.3, "opacity": 1, "clip": true}, "encoding": {
      "x": {"field": "g", "type": "nominal", "title": null, "scale": {"domain": ["Group 1 (Mock)", "Group 2 (Mock)", "Group 3 (D/KV/ADJ)", "Group 4 (D/KV/ADJ)", "Group 5 (C/KV/ADJ)", "Group 6 (C/KV/ADJ)"], "paddingInner": 0, "paddingOuter": 0}},
      "y": {"field": "v", "type": "quantitative", "scale": {"domain": [-0.1, 6.1], "nice": false, "zero": false}, "axis": {"values": [0, 0.4, 0.8, 1.2, 1.6, 2, 2.4, 2.8, 3.2, 3.6, 4, 4.4, 4.8, 5.2, 5.6, 6], "format": ".1f", "labelFontSize": 6, "title": "Antibody (ELISA S/P ratio)"}},
      "xOffset": {"field": "j", "type": "quantitative", "scale": {"domain": [0, 1], "range": [4, 25]}},
      "fill": {"field": "g", "type": "nominal", "scale": {"domain": ["Group 1 (Mock)", "Group 2 (Mock)", "Group 3 (D/KV/ADJ)", "Group 4 (D/KV/ADJ)", "Group 5 (C/KV/ADJ)", "Group 6 (C/KV/ADJ)"], "range": ["#3c9e3c", "#f79b45", "#4b86b8", "#9a5fc7", "#b52f3c", "#ffffff"]}, "legend": null},
      "stroke": {"field": "g", "type": "nominal", "scale": {"domain": ["Group 1 (Mock)", "Group 2 (Mock)", "Group 3 (D/KV/ADJ)", "Group 4 (D/KV/ADJ)", "Group 5 (C/KV/ADJ)", "Group 6 (C/KV/ADJ)"], "range": ["#3c9e3c", "#f79b45", "#4b86b8", "#9a5fc7", "#b52f3c", "#4a6cd0"]}, "legend": null},
      "size": {"field": "g", "type": "ordinal", "scale": {"domain": ["Group 1 (Mock)", "Group 2 (Mock)", "Group 3 (D/KV/ADJ)", "Group 4 (D/KV/ADJ)", "Group 5 (C/KV/ADJ)", "Group 6 (C/KV/ADJ)"], "range": [16, 18, 16, 16, 18, 30]}, "legend": null},
      "shape": {"field": "g", "type": "nominal", "scale": {"domain": ["Group 1 (Mock)", "Group 2 (Mock)", "Group 3 (D/KV/ADJ)", "Group 4 (D/KV/ADJ)", "Group 5 (C/KV/ADJ)", "Group 6 (C/KV/ADJ)"], "range": ["circle", "square", "triangle-up", "triangle-down", "M0,-1L0.35,-0.35L1,0L0.35,0.35L0,1L-0.35,0.35L-1,0L-0.35,-0.35Z", "circle"]}, "legend": null}}}
   ]}]}
], "spacing": 28, "resolve": {"scale": {"color": "independent", "shape": "independent", "xOffset": "independent", "fill": "independent", "stroke": "independent", "size": "independent"}}}
],
"spacing": 7,
"resolve": {"scale": {"color": "independent", "shape": "independent", "xOffset": "independent", "fill": "independent", "stroke": "independent", "size": "independent"}},
"config": {
 "font": "Liberation Sans",
 "view": {"stroke": "#3a3a3a", "strokeWidth": 1.5},
 "title": {"font": "Liberation Sans", "fontSize": 16, "fontWeight": "normal", "anchor": "start", "frame": "group", "offset": 2, "color": "#000"},
 "axis": {"grid": false, "domain": false, "labelColor": "#111", "tickColor": "#222", "titleColor": "#111", "labelFont": "Liberation Sans", "titleFont": "Liberation Sans", "tickSize": 3},
 "axisY": {"labelFontSize": 7.5, "labelFontWeight": "bold", "titleFontSize": 7.5, "titleFontWeight": "bold", "labelPadding": 1.5, "titlePadding": 3, "labelOverlap": false},
 "axisX": {"labelAngle": -45, "labelFontSize": 7, "labelPadding": 2},
 "legend": {"disable": true}
}
}
